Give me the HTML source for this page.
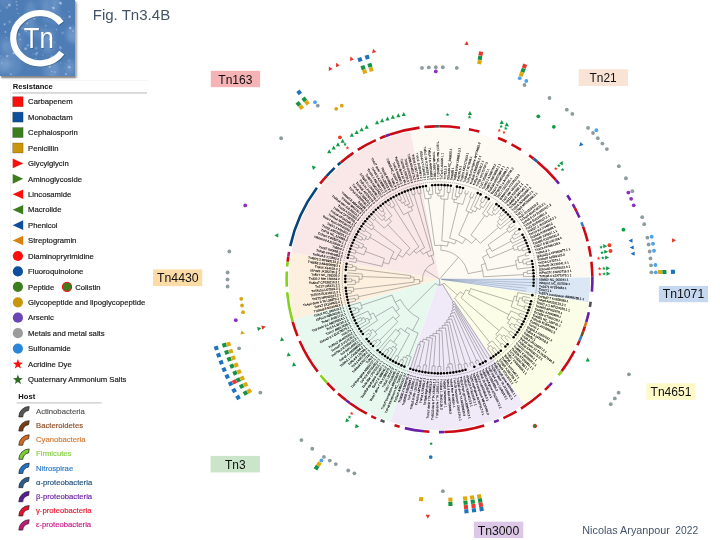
<!DOCTYPE html>
<html lang="en"><head><meta charset="utf-8"><title>Fig. Tn3.4B</title>
<style>html,body{margin:0;padding:0;background:#fff;overflow:hidden}svg{display:block}text{font-family:"Liberation Sans",Arial,sans-serif}</style></head><body>
<svg width="720" height="540" viewBox="0 0 720 540">
<defs><filter id="bl" x="-20%" y="-20%" width="140%" height="140%"><feGaussianBlur stdDeviation="0.9"/></filter><filter id="bl2" x="-20%" y="-20%" width="140%" height="140%"><feGaussianBlur stdDeviation="0.6"/></filter><filter id="bl3" x="-40%" y="-40%" width="180%" height="180%"><feGaussianBlur stdDeviation="2.2"/></filter><clipPath id="lc"><rect x="0" y="0" width="75" height="76"/></clipPath></defs>
<g id="logo"><rect x="1.5" y="2.5" width="75" height="75.3" fill="#7d7d7d" filter="url(#bl)"/><rect x="0" y="0" width="75" height="76" fill="#4e7db6"/><g clip-path="url(#lc)"><ellipse cx="17.8" cy="40.8" rx="5.2" ry="8.8" fill="#9dbde0" opacity="0.21" filter="url(#bl3)"/><ellipse cx="4.9" cy="1.0" rx="8.0" ry="6.1" fill="#9dbde0" opacity="0.14" filter="url(#bl3)"/><ellipse cx="74.7" cy="35.3" rx="8.0" ry="7.8" fill="#9dbde0" opacity="0.22" filter="url(#bl3)"/><ellipse cx="11.3" cy="47.6" rx="8.2" ry="8.2" fill="#9dbde0" opacity="0.23" filter="url(#bl3)"/><ellipse cx="50.4" cy="4.8" rx="7.5" ry="8.7" fill="#9dbde0" opacity="0.15" filter="url(#bl3)"/><ellipse cx="2.3" cy="64.9" rx="5.8" ry="9.8" fill="#9dbde0" opacity="0.26" filter="url(#bl3)"/><ellipse cx="53.6" cy="69.1" rx="5.4" ry="10.4" fill="#9dbde0" opacity="0.18" filter="url(#bl3)"/><ellipse cx="70.2" cy="65.9" rx="3.6" ry="5.1" fill="#9dbde0" opacity="0.14" filter="url(#bl3)"/><ellipse cx="72.4" cy="32.7" rx="6.8" ry="6.4" fill="#9dbde0" opacity="0.19" filter="url(#bl3)"/><ellipse cx="28.9" cy="26.3" rx="6.5" ry="8.7" fill="#9dbde0" opacity="0.26" filter="url(#bl3)"/><ellipse cx="51.1" cy="69.7" rx="8.1" ry="11.9" fill="#9dbde0" opacity="0.22" filter="url(#bl3)"/><ellipse cx="12.2" cy="64.5" rx="8.8" ry="11.2" fill="#9dbde0" opacity="0.20" filter="url(#bl3)"/><ellipse cx="53.5" cy="15.8" rx="8.0" ry="8.6" fill="#9dbde0" opacity="0.15" filter="url(#bl3)"/><ellipse cx="4.8" cy="64.0" rx="8.9" ry="4.7" fill="#9dbde0" opacity="0.24" filter="url(#bl3)"/><ellipse cx="30.8" cy="11.3" rx="4.8" ry="10.2" fill="#9dbde0" opacity="0.26" filter="url(#bl3)"/><ellipse cx="3.3" cy="46.1" rx="3.3" ry="9.7" fill="#9dbde0" opacity="0.16" filter="url(#bl3)"/><ellipse cx="66.1" cy="73.5" rx="6.0" ry="12.0" fill="#9dbde0" opacity="0.16" filter="url(#bl3)"/><ellipse cx="5.8" cy="45.0" rx="3.2" ry="5.6" fill="#9dbde0" opacity="0.17" filter="url(#bl3)"/><ellipse cx="45.8" cy="11.7" rx="3.3" ry="10.9" fill="#9dbde0" opacity="0.16" filter="url(#bl3)"/><ellipse cx="71.9" cy="67.2" rx="5.3" ry="7.7" fill="#9dbde0" opacity="0.19" filter="url(#bl3)"/><ellipse cx="48.3" cy="44.7" rx="6.4" ry="9.0" fill="#9dbde0" opacity="0.27" filter="url(#bl3)"/><ellipse cx="38.0" cy="32.3" rx="7.3" ry="5.9" fill="#9dbde0" opacity="0.15" filter="url(#bl3)"/><ellipse cx="73.3" cy="39.1" rx="6.3" ry="4.1" fill="#9dbde0" opacity="0.17" filter="url(#bl3)"/><ellipse cx="43.5" cy="1.5" rx="6.7" ry="9.1" fill="#9dbde0" opacity="0.11" filter="url(#bl3)"/><ellipse cx="47.1" cy="35.0" rx="7.1" ry="6.8" fill="#9dbde0" opacity="0.23" filter="url(#bl3)"/><ellipse cx="55.4" cy="1.7" rx="3.4" ry="9.4" fill="#9dbde0" opacity="0.27" filter="url(#bl3)"/><circle cx="18.8" cy="34.2" r="1.1" fill="#e6eef9" opacity="0.26" filter="url(#bl2)"/><circle cx="27.3" cy="23.5" r="0.9" fill="#e6eef9" opacity="0.36" filter="url(#bl2)"/><circle cx="22.5" cy="28.3" r="1.3" fill="#e6eef9" opacity="0.16" filter="url(#bl2)"/><circle cx="42.7" cy="55.1" r="0.8" fill="#e6eef9" opacity="0.23" filter="url(#bl2)"/><circle cx="60.3" cy="17.9" r="0.7" fill="#e6eef9" opacity="0.30" filter="url(#bl2)"/><circle cx="52.4" cy="7.6" r="0.8" fill="#e6eef9" opacity="0.27" filter="url(#bl2)"/><circle cx="62.5" cy="32.9" r="1.4" fill="#e6eef9" opacity="0.21" filter="url(#bl2)"/><circle cx="25.3" cy="48.8" r="1.4" fill="#e6eef9" opacity="0.31" filter="url(#bl2)"/><circle cx="16.9" cy="9.1" r="1.0" fill="#e6eef9" opacity="0.22" filter="url(#bl2)"/><circle cx="60.5" cy="62.9" r="0.7" fill="#e6eef9" opacity="0.25" filter="url(#bl2)"/><circle cx="60.5" cy="48.1" r="1.3" fill="#e6eef9" opacity="0.27" filter="url(#bl2)"/><circle cx="9.7" cy="21.9" r="1.3" fill="#e6eef9" opacity="0.24" filter="url(#bl2)"/><circle cx="26.0" cy="31.3" r="0.9" fill="#e6eef9" opacity="0.29" filter="url(#bl2)"/><circle cx="69.0" cy="11.7" r="0.5" fill="#e6eef9" opacity="0.48" filter="url(#bl2)"/><circle cx="66.0" cy="74.0" r="0.9" fill="#e6eef9" opacity="0.48" filter="url(#bl2)"/><circle cx="69.6" cy="16.7" r="1.2" fill="#e6eef9" opacity="0.44" filter="url(#bl2)"/><circle cx="49.7" cy="38.9" r="0.8" fill="#e6eef9" opacity="0.27" filter="url(#bl2)"/><circle cx="17.1" cy="5.1" r="1.1" fill="#e6eef9" opacity="0.25" filter="url(#bl2)"/><circle cx="60.8" cy="3.4" r="1.4" fill="#e6eef9" opacity="0.39" filter="url(#bl2)"/><circle cx="69.3" cy="67.2" r="1.4" fill="#e6eef9" opacity="0.35" filter="url(#bl2)"/><circle cx="1.0" cy="55.9" r="0.7" fill="#e6eef9" opacity="0.25" filter="url(#bl2)"/><circle cx="49.7" cy="39.4" r="0.9" fill="#e6eef9" opacity="0.48" filter="url(#bl2)"/><circle cx="45.9" cy="25.6" r="0.8" fill="#e6eef9" opacity="0.45" filter="url(#bl2)"/><circle cx="35.8" cy="58.7" r="0.9" fill="#e6eef9" opacity="0.22" filter="url(#bl2)"/><circle cx="40.1" cy="61.3" r="0.7" fill="#e6eef9" opacity="0.43" filter="url(#bl2)"/><circle cx="69.1" cy="60.5" r="1.3" fill="#e6eef9" opacity="0.15" filter="url(#bl2)"/><circle cx="47.1" cy="64.7" r="0.5" fill="#e6eef9" opacity="0.24" filter="url(#bl2)"/><circle cx="20.1" cy="39.5" r="0.9" fill="#e6eef9" opacity="0.32" filter="url(#bl2)"/><circle cx="58.2" cy="0.1" r="0.6" fill="#e6eef9" opacity="0.19" filter="url(#bl2)"/><circle cx="9.3" cy="5.1" r="1.5" fill="#e6eef9" opacity="0.45" filter="url(#bl2)"/><circle cx="6.5" cy="37.7" r="0.8" fill="#e6eef9" opacity="0.26" filter="url(#bl2)"/><circle cx="26.3" cy="48.5" r="1.1" fill="#e6eef9" opacity="0.28" filter="url(#bl2)"/><circle cx="14.3" cy="24.7" r="0.6" fill="#e6eef9" opacity="0.34" filter="url(#bl2)"/><circle cx="53.7" cy="28.5" r="0.6" fill="#e6eef9" opacity="0.21" filter="url(#bl2)"/><circle cx="28.0" cy="45.3" r="1.3" fill="#e6eef9" opacity="0.28" filter="url(#bl2)"/><circle cx="60.1" cy="46.7" r="0.9" fill="#e6eef9" opacity="0.28" filter="url(#bl2)"/><circle cx="37.2" cy="52.7" r="0.9" fill="#e6eef9" opacity="0.39" filter="url(#bl2)"/><circle cx="34.6" cy="18.4" r="1.0" fill="#e6eef9" opacity="0.39" filter="url(#bl2)"/><circle cx="5.4" cy="31.9" r="0.9" fill="#e6eef9" opacity="0.46" filter="url(#bl2)"/><circle cx="70.2" cy="28.1" r="1.4" fill="#e6eef9" opacity="0.43" filter="url(#bl2)"/><circle cx="19.7" cy="34.8" r="0.6" fill="#e6eef9" opacity="0.43" filter="url(#bl2)"/><circle cx="49.7" cy="66.6" r="1.3" fill="#e6eef9" opacity="0.38" filter="url(#bl2)"/><circle cx="55.0" cy="42.3" r="0.6" fill="#e6eef9" opacity="0.36" filter="url(#bl2)"/><circle cx="0.4" cy="10.8" r="1.3" fill="#e6eef9" opacity="0.17" filter="url(#bl2)"/><circle cx="6.9" cy="7.4" r="1.4" fill="#e6eef9" opacity="0.21" filter="url(#bl2)"/><circle cx="1.8" cy="63.1" r="0.6" fill="#e6eef9" opacity="0.45" filter="url(#bl2)"/><circle cx="50.5" cy="62.7" r="1.5" fill="#e6eef9" opacity="0.35" filter="url(#bl2)"/><circle cx="59.9" cy="2.7" r="1.3" fill="#e6eef9" opacity="0.33" filter="url(#bl2)"/><circle cx="53.6" cy="8.0" r="1.2" fill="#e6eef9" opacity="0.48" filter="url(#bl2)"/><circle cx="4.6" cy="24.3" r="1.1" fill="#e6eef9" opacity="0.44" filter="url(#bl2)"/><circle cx="18.2" cy="13.5" r="0.7" fill="#e6eef9" opacity="0.37" filter="url(#bl2)"/><circle cx="56.5" cy="29.5" r="0.9" fill="#e6eef9" opacity="0.29" filter="url(#bl2)"/><circle cx="26.3" cy="31.4" r="0.6" fill="#e6eef9" opacity="0.33" filter="url(#bl2)"/><circle cx="73.0" cy="31.0" r="1.2" fill="#e6eef9" opacity="0.21" filter="url(#bl2)"/><circle cx="51.8" cy="56.7" r="1.2" fill="#e6eef9" opacity="0.33" filter="url(#bl2)"/><circle cx="36.3" cy="48.2" r="1.4" fill="#e6eef9" opacity="0.20" filter="url(#bl2)"/><circle cx="7.2" cy="56.1" r="1.4" fill="#e6eef9" opacity="0.33" filter="url(#bl2)"/><circle cx="33.2" cy="53.9" r="0.7" fill="#e6eef9" opacity="0.24" filter="url(#bl2)"/><circle cx="14.9" cy="43.9" r="0.8" fill="#e6eef9" opacity="0.23" filter="url(#bl2)"/><circle cx="51.8" cy="71.5" r="0.8" fill="#e6eef9" opacity="0.40" filter="url(#bl2)"/><circle cx="31.0" cy="64.0" r="1.1" fill="#e6eef9" opacity="0.24" filter="url(#bl2)"/><circle cx="16.3" cy="1.7" r="1.0" fill="#e6eef9" opacity="0.28" filter="url(#bl2)"/><circle cx="12.9" cy="27.0" r="0.8" fill="#e6eef9" opacity="0.42" filter="url(#bl2)"/><circle cx="10.8" cy="74.3" r="1.0" fill="#e6eef9" opacity="0.36" filter="url(#bl2)"/><circle cx="35.1" cy="62.6" r="1.3" fill="#e6eef9" opacity="0.34" filter="url(#bl2)"/><circle cx="36.1" cy="54.1" r="1.4" fill="#e6eef9" opacity="0.29" filter="url(#bl2)"/><circle cx="55.0" cy="72.0" r="1.0" fill="#e6eef9" opacity="0.23" filter="url(#bl2)"/><circle cx="17.6" cy="53.8" r="1.2" fill="#e6eef9" opacity="0.49" filter="url(#bl2)"/><circle cx="64.0" cy="18.2" r="0.7" fill="#e6eef9" opacity="0.24" filter="url(#bl2)"/><circle cx="14.0" cy="52.9" r="1.4" fill="#e6eef9" opacity="0.46" filter="url(#bl2)"/></g><rect x="1.2" y="76" width="74.6" height="1.6" fill="#8a8a8a" opacity="0.85"/><rect x="75" y="1" width="0.8" height="76" fill="#b5b5b5"/><path d="M62.12 23.99A26.7 25.1 0 1 0 62.67 53.50" fill="none" stroke="#27466f" stroke-opacity="0.45" stroke-width="6.2"/><path d="M61.22 23.09A26.7 25.1 0 1 0 61.77 52.60" fill="none" stroke="#fff" stroke-width="6.2"/><text x="24.4" y="49.1" font-size="29.2" fill="#27466f" fill-opacity="0.45" textLength="30" lengthAdjust="spacingAndGlyphs">Tn</text><text x="23.7" y="48.4" font-size="29.2" fill="#fff" textLength="30" lengthAdjust="spacingAndGlyphs">Tn</text></g>
<text x="92.7" y="19.7" font-size="14.9" fill="#44546a" textLength="77.5" lengthAdjust="spacingAndGlyphs">Fig. Tn3.4B</text>
<text x="582.3" y="533.5" font-size="10" fill="#44546a" textLength="87.6" lengthAdjust="spacingAndGlyphs">Nicolas Aryanpour</text><text x="675.3" y="533.5" font-size="10" fill="#44546a" textLength="22.8" lengthAdjust="spacingAndGlyphs">2022</text>
<g id="legend">
<path d="M10.5 388V80.5H148" fill="none" stroke="#f4f4f4" stroke-width="0.8"/>
<text x="12.7" y="89.2" font-size="7.6" font-weight="bold" fill="#111">Resistance</text>
<rect x="12.5" y="92.3" width="134.5" height="1.3" fill="#c8c8c8"/>
<rect x="12.7" y="96.70" width="10.4" height="10" fill="#fa0f0c" stroke="#000" stroke-opacity="0.28" stroke-width="0.7"/>
<text x="28.1" y="104.40" font-size="7.7" fill="#1a1a1a" stroke="#1a1a1a" stroke-width="0.18">Carbapenem</text>
<rect x="12.7" y="112.13" width="10.4" height="10" fill="#0d4f9c" stroke="#000" stroke-opacity="0.28" stroke-width="0.7"/>
<text x="28.1" y="119.83" font-size="7.7" fill="#1a1a1a" stroke="#1a1a1a" stroke-width="0.18">Monobactam</text>
<rect x="12.7" y="127.56" width="10.4" height="10" fill="#3c7d1e" stroke="#000" stroke-opacity="0.28" stroke-width="0.7"/>
<text x="28.1" y="135.26" font-size="7.7" fill="#1a1a1a" stroke="#1a1a1a" stroke-width="0.18">Cephalosporin</text>
<rect x="12.7" y="142.99" width="10.4" height="10" fill="#c8960c" stroke="#000" stroke-opacity="0.28" stroke-width="0.7"/>
<text x="28.1" y="150.69" font-size="7.7" fill="#1a1a1a" stroke="#1a1a1a" stroke-width="0.18">Penicillin</text>
<polygon points="12.7,158.62 23.2,163.42 12.7,168.22" fill="#fa0f0c"/>
<text x="28.1" y="166.12" font-size="7.7" fill="#1a1a1a" stroke="#1a1a1a" stroke-width="0.18">Glycylglycin</text>
<polygon points="12.7,174.05 23.2,178.85 12.7,183.65" fill="#3c7d1e"/>
<text x="28.1" y="181.55" font-size="7.7" fill="#1a1a1a" stroke="#1a1a1a" stroke-width="0.18">Aminoglycoside</text>
<polygon points="23.2,189.48 12.7,194.28 23.2,199.08" fill="#fa0f0c"/>
<text x="28.1" y="196.98" font-size="7.7" fill="#1a1a1a" stroke="#1a1a1a" stroke-width="0.18">Lincosamide</text>
<polygon points="23.2,204.91 12.7,209.71 23.2,214.51" fill="#3c7d1e"/>
<text x="28.1" y="212.41" font-size="7.7" fill="#1a1a1a" stroke="#1a1a1a" stroke-width="0.18">Macrolide</text>
<polygon points="23.2,220.34 12.7,225.14 23.2,229.94" fill="#0d4f9c"/>
<text x="28.1" y="227.84" font-size="7.7" fill="#1a1a1a" stroke="#1a1a1a" stroke-width="0.18">Phenicol</text>
<polygon points="23.2,235.77 12.7,240.57 23.2,245.37" fill="#d9820f"/>
<text x="28.1" y="243.27" font-size="7.7" fill="#1a1a1a" stroke="#1a1a1a" stroke-width="0.18">Streptogramin</text>
<circle cx="17.9" cy="256.00" r="5.1" fill="#fa0f0c"/>
<text x="28.1" y="258.70" font-size="7.7" fill="#1a1a1a" stroke="#1a1a1a" stroke-width="0.18">Diaminopryrimidine</text>
<circle cx="17.9" cy="271.43" r="5.1" fill="#0d4f9c"/>
<text x="28.1" y="274.13" font-size="7.7" fill="#1a1a1a" stroke="#1a1a1a" stroke-width="0.18">Fluoroquinolone</text>
<circle cx="17.9" cy="286.86" r="5.1" fill="#3c7d1e"/>
<text x="28.1" y="289.56" font-size="7.7" fill="#1a1a1a" stroke="#1a1a1a" stroke-width="0.18">Peptide</text>
<circle cx="17.9" cy="302.29" r="5.1" fill="#c8960c"/>
<text x="28.1" y="304.99" font-size="7.7" fill="#1a1a1a" stroke="#1a1a1a" stroke-width="0.18">Glycopeptide and lipoglycopeptide</text>
<circle cx="17.9" cy="317.72" r="5.1" fill="#6a45b5"/>
<text x="28.1" y="320.42" font-size="7.7" fill="#1a1a1a" stroke="#1a1a1a" stroke-width="0.18">Arsenic</text>
<circle cx="17.9" cy="333.15" r="5.1" fill="#9b9b9b"/>
<text x="28.1" y="335.85" font-size="7.7" fill="#1a1a1a" stroke="#1a1a1a" stroke-width="0.18">Metals and metal salts</text>
<circle cx="17.9" cy="348.58" r="5.1" fill="#2a86d6"/>
<text x="28.1" y="351.28" font-size="7.7" fill="#1a1a1a" stroke="#1a1a1a" stroke-width="0.18">Sulfonamide</text>
<polygon points="17.90,359.11 19.19,362.53 22.85,362.70 19.99,364.99 20.96,368.52 17.90,366.51 14.84,368.52 15.81,364.99 12.95,362.70 16.61,362.53" fill="#fa0f0c"/>
<text x="28.1" y="366.71" font-size="7.7" fill="#1a1a1a" stroke="#1a1a1a" stroke-width="0.18">Acridine Dye</text>
<polygon points="17.90,374.54 19.19,377.96 22.85,378.13 19.99,380.42 20.96,383.95 17.90,381.94 14.84,383.95 15.81,380.42 12.95,378.13 16.61,377.96" fill="#2f6b22"/>
<text x="28.1" y="382.14" font-size="7.7" fill="#1a1a1a" stroke="#1a1a1a" stroke-width="0.18">Quaternary Ammonium Salts</text>
<circle cx="67" cy="286.86" r="4.6" fill="#3c7d1e" stroke="#fa0f0c" stroke-width="1.1"/>
<text x="75.3" y="289.56" font-size="7.7" fill="#1a1a1a" stroke="#1a1a1a" stroke-width="0.18">Colistin</text>
<text x="18.3" y="399.2" font-size="7.6" font-weight="bold" fill="#111">Host</text>
<rect x="16.7" y="402.3" width="85" height="1.2" fill="#c8c8c8"/>
<path d="M18.80 416.90A10.4 10.4 0 0 1 29.20 406.50L28.60 410.50A6.4 6.4 0 0 0 22.80 416.90Z" fill="#555555" stroke="#222" stroke-width="0.7" stroke-linejoin="round"/>
<text x="36" y="413.90" font-size="7.7" fill="#555" stroke="#555" stroke-width="0.15">Actinobacteria</text>
<path d="M18.80 431.05A10.4 10.4 0 0 1 29.20 420.65L28.60 424.65A6.4 6.4 0 0 0 22.80 431.05Z" fill="#7a3b12" stroke="#222" stroke-width="0.7" stroke-linejoin="round"/>
<text x="36" y="428.05" font-size="7.7" fill="#8b4a22" stroke="#8b4a22" stroke-width="0.15">Bacteroidetes</text>
<path d="M18.80 445.20A10.4 10.4 0 0 1 29.20 434.80L28.60 438.80A6.4 6.4 0 0 0 22.80 445.20Z" fill="#d2691e" stroke="#222" stroke-width="0.7" stroke-linejoin="round"/>
<text x="36" y="442.20" font-size="7.7" fill="#d07a35" stroke="#d07a35" stroke-width="0.15">Cyanobacteria</text>
<path d="M18.80 459.35A10.4 10.4 0 0 1 29.20 448.95L28.60 452.95A6.4 6.4 0 0 0 22.80 459.35Z" fill="#7ccd2e" stroke="#222" stroke-width="0.7" stroke-linejoin="round"/>
<text x="36" y="456.35" font-size="7.7" fill="#86cf45" stroke="#86cf45" stroke-width="0.15">Firmicutes</text>
<path d="M18.80 473.50A10.4 10.4 0 0 1 29.20 463.10L28.60 467.10A6.4 6.4 0 0 0 22.80 473.50Z" fill="#1f72c4" stroke="#222" stroke-width="0.7" stroke-linejoin="round"/>
<text x="36" y="470.50" font-size="7.7" fill="#2a78c8" stroke="#2a78c8" stroke-width="0.15">Nitrospirae</text>
<path d="M18.80 487.65A10.4 10.4 0 0 1 29.20 477.25L28.60 481.25A6.4 6.4 0 0 0 22.80 487.65Z" fill="#2a5d8c" stroke="#222" stroke-width="0.7" stroke-linejoin="round"/>
<text x="36" y="484.65" font-size="7.7" fill="#1f4e79" stroke="#1f4e79" stroke-width="0.15">α-proteobacteria</text>
<path d="M18.80 501.80A10.4 10.4 0 0 1 29.20 491.40L28.60 495.40A6.4 6.4 0 0 0 22.80 501.80Z" fill="#5b1a96" stroke="#222" stroke-width="0.7" stroke-linejoin="round"/>
<text x="36" y="498.80" font-size="7.7" fill="#6a1fa0" stroke="#6a1fa0" stroke-width="0.15">β-proteobacteria</text>
<path d="M18.80 515.95A10.4 10.4 0 0 1 29.20 505.55L28.60 509.55A6.4 6.4 0 0 0 22.80 515.95Z" fill="#e8112d" stroke="#222" stroke-width="0.7" stroke-linejoin="round"/>
<text x="36" y="512.95" font-size="7.7" fill="#e8112d" stroke="#e8112d" stroke-width="0.15">γ-proteobacteria</text>
<path d="M18.80 530.10A10.4 10.4 0 0 1 29.20 519.70L28.60 523.70A6.4 6.4 0 0 0 22.80 530.10Z" fill="#c2187a" stroke="#222" stroke-width="0.7" stroke-linejoin="round"/>
<text x="36" y="527.10" font-size="7.7" fill="#c71585" stroke="#c71585" stroke-width="0.15">ε-proteobacteria</text>
</g>
<rect x="210.8" y="70.8" width="49.3" height="16.4" fill="#f5b3b6"/>
<text x="218.3" y="83.7" font-size="12" fill="#111" textLength="34.2" lengthAdjust="spacingAndGlyphs">Tn163</text>
<rect x="578.7" y="69.2" width="49.2" height="16.7" fill="#f8e3d5"/>
<text x="589.6" y="82.0" font-size="12" fill="#111" textLength="27.1" lengthAdjust="spacingAndGlyphs">Tn21</text>
<rect x="658.9" y="285.9" width="49.1" height="16.3" fill="#c5d8f0"/>
<text x="662.7" y="298.3" font-size="12" fill="#111" textLength="41.5" lengthAdjust="spacingAndGlyphs">Tn1071</text>
<rect x="646.3" y="383.3" width="49" height="16.5" fill="#fff9c8"/>
<text x="650.5" y="396.3" font-size="12" fill="#111" textLength="41.0" lengthAdjust="spacingAndGlyphs">Tn4651</text>
<rect x="153" y="269.4" width="49.2" height="16.7" fill="#fcdca6"/>
<text x="157.0" y="282.4" font-size="12" fill="#111" textLength="41.7" lengthAdjust="spacingAndGlyphs">Tn4430</text>
<rect x="210.6" y="455.9" width="49.4" height="16.5" fill="#cbe5cb"/>
<text x="225.0" y="468.9" font-size="12" fill="#111" textLength="20.6" lengthAdjust="spacingAndGlyphs">Tn3</text>
<rect x="473.9" y="521.7" width="49.4" height="16.4" fill="#dcc8e6"/>
<text x="477.7" y="534.8" font-size="12" fill="#111" textLength="41.5" lengthAdjust="spacingAndGlyphs">Tn3000</text>
<g id="tree">
<path d="M439.5 279.2L590.19 277.23A150.7 150.7 0 0 1 588.43 302.25Z" fill="#dce7f5"/>
<path d="M439.5 279.2L588.43 302.25A150.7 150.7 0 0 1 523.77 404.14Z" fill="#fbfde6"/>
<path d="M439.5 279.2L523.77 404.14A150.7 150.7 0 0 1 390.44 421.69Z" fill="#efe9f8"/>
<path d="M439.5 279.2L390.44 421.69A150.7 150.7 0 0 1 294.21 319.22Z" fill="#e7f8ee"/>
<path d="M439.5 279.2L294.21 319.22A150.7 150.7 0 0 1 291.23 252.25Z" fill="#fdf0df"/>
<path d="M439.5 279.2L291.23 252.25A150.7 150.7 0 0 1 410.49 131.32Z" fill="#fae8e8"/>
<path d="M439.5 279.2L410.49 131.32A150.7 150.7 0 0 1 590.19 277.23Z" fill="#fdfaf3"/>
<path d="M290.22 246.11A152.90 152.90 0 0 1 316.91 187.82" fill="none" stroke="#0b4577" stroke-width="2.6"/>
<path d="M320.17 183.60A152.90 152.90 0 0 1 326.59 176.10" fill="none" stroke="#cc0a14" stroke-width="2.6"/>
<path d="M326.59 176.10A152.90 152.90 0 0 1 334.64 167.92" fill="none" stroke="#0b4577" stroke-width="2.6"/>
<path d="M337.79 165.04A152.90 152.90 0 0 1 340.81 162.42" fill="none" stroke="#0b4577" stroke-width="2.6"/>
<path d="M340.81 162.42A152.90 152.90 0 0 1 353.34 152.89" fill="none" stroke="#cc0a14" stroke-width="2.6"/>
<path d="M357.80 149.96A152.90 152.90 0 0 1 375.85 140.18" fill="none" stroke="#cc0a14" stroke-width="2.6"/>
<path d="M380.00 138.35A152.90 152.90 0 0 1 385.70 136.08" fill="none" stroke="#cc0a14" stroke-width="2.6"/>
<path d="M385.70 136.08A152.90 152.90 0 0 1 389.97 134.54" fill="none" stroke="#6a1fa8" stroke-width="2.6"/>
<path d="M389.97 134.54A152.90 152.90 0 0 1 419.54 127.61" fill="none" stroke="#cc0a14" stroke-width="2.6"/>
<path d="M424.31 127.06A152.90 152.90 0 0 1 434.96 126.37" fill="none" stroke="#cc0a14" stroke-width="2.6"/>
<path d="M434.96 126.37A152.90 152.90 0 0 1 439.50 126.30" fill="none" stroke="#555555" stroke-width="2.6"/>
<path d="M439.50 126.30A152.90 152.90 0 0 1 459.99 127.68" fill="none" stroke="#cc0a14" stroke-width="2.6"/>
<path d="M468.94 129.16A152.90 152.90 0 0 1 479.33 131.58" fill="none" stroke="#cc0a14" stroke-width="2.6"/>
<path d="M498.01 137.94A152.90 152.90 0 0 1 506.53 141.77" fill="none" stroke="#cc0a14" stroke-width="2.6"/>
<path d="M511.52 144.32A152.90 152.90 0 0 1 520.98 149.82" fill="none" stroke="#cc0a14" stroke-width="2.6"/>
<path d="M529.16 155.34A152.90 152.90 0 0 1 533.53 158.63" fill="none" stroke="#cc0a14" stroke-width="2.6"/>
<path d="M533.53 158.63A152.90 152.90 0 0 1 537.37 161.73" fill="none" stroke="#1f5f95" stroke-width="2.6"/>
<path d="M537.37 161.73A152.90 152.90 0 0 1 555.77 179.90" fill="none" stroke="#cc0a14" stroke-width="2.6"/>
<path d="M555.77 179.90A152.90 152.90 0 0 1 558.99 183.81" fill="none" stroke="#6a1fa8" stroke-width="2.6"/>
<path d="M567.29 195.25A152.90 152.90 0 0 1 570.42 200.22" fill="none" stroke="#6a1fa8" stroke-width="2.6"/>
<path d="M572.71 204.14A152.90 152.90 0 0 1 574.88 208.13" fill="none" stroke="#6a1fa8" stroke-width="2.6"/>
<path d="M574.88 208.13A152.90 152.90 0 0 1 576.45 211.22" fill="none" stroke="#cc0a14" stroke-width="2.6"/>
<path d="M576.45 211.22A152.90 152.90 0 0 1 579.40 217.50" fill="none" stroke="#6a1fa8" stroke-width="2.6"/>
<path d="M581.37 222.17A152.90 152.90 0 0 1 583.09 226.65" fill="none" stroke="#2f7fd0" stroke-width="2.6"/>
<path d="M583.09 226.65A152.90 152.90 0 0 1 587.66 241.43" fill="none" stroke="#cc0a14" stroke-width="2.6"/>
<path d="M588.78 246.11A152.90 152.90 0 0 1 590.72 256.60" fill="none" stroke="#cc0a14" stroke-width="2.6"/>
<path d="M591.40 261.76A152.90 152.90 0 0 1 592.38 276.66" fill="none" stroke="#cc0a14" stroke-width="2.6"/>
<path d="M592.38 276.66A152.90 152.90 0 0 1 591.90 291.57" fill="none" stroke="#6a1fa8" stroke-width="2.6"/>
<path d="M590.72 301.80A152.90 152.90 0 0 1 589.84 307.06" fill="none" stroke="#555555" stroke-width="2.6"/>
<path d="M588.78 312.29A152.90 152.90 0 0 1 586.22 322.24" fill="none" stroke="#6a1fa8" stroke-width="2.6"/>
<path d="M586.22 322.24A152.90 152.90 0 0 1 584.83 326.70" fill="none" stroke="#d2761e" stroke-width="2.6"/>
<path d="M584.83 326.70A152.90 152.90 0 0 1 583.27 331.24" fill="none" stroke="#cc0a14" stroke-width="2.6"/>
<path d="M583.27 331.24A152.90 152.90 0 0 1 581.42 336.11" fill="none" stroke="#7a4a1a" stroke-width="2.6"/>
<path d="M581.42 336.11A152.90 152.90 0 0 1 579.50 340.66" fill="none" stroke="#2f7fd0" stroke-width="2.6"/>
<path d="M579.50 340.66A152.90 152.90 0 0 1 577.39 345.27" fill="none" stroke="#cc0a14" stroke-width="2.6"/>
<path d="M574.54 350.91A152.90 152.90 0 0 1 561.68 371.13" fill="none" stroke="#cc0a14" stroke-width="2.6"/>
<path d="M561.68 371.13A152.90 152.90 0 0 1 558.49 375.22" fill="none" stroke="#86d11a" stroke-width="2.6"/>
<path d="M551.87 382.89A152.90 152.90 0 0 1 548.74 386.18" fill="none" stroke="#6a1fa8" stroke-width="2.6"/>
<path d="M548.74 386.18A152.90 152.90 0 0 1 544.94 389.93" fill="none" stroke="#cc0a14" stroke-width="2.6"/>
<path d="M541.21 393.36A152.90 152.90 0 0 1 520.98 408.58" fill="none" stroke="#cc0a14" stroke-width="2.6"/>
<path d="M516.41 411.35A152.90 152.90 0 0 1 503.39 418.11" fill="none" stroke="#cc0a14" stroke-width="2.6"/>
<path d="M498.75 420.15A152.90 152.90 0 0 1 494.05 422.04" fill="none" stroke="#6a1fa8" stroke-width="2.6"/>
<path d="M484.20 425.42A152.90 152.90 0 0 1 444.44 432.02" fill="none" stroke="#cc0a14" stroke-width="2.6"/>
<path d="M444.44 432.02A152.90 152.90 0 0 1 438.97 432.10" fill="none" stroke="#6a1fa8" stroke-width="2.6"/>
<path d="M429.37 431.76A152.90 152.90 0 0 1 424.05 431.32" fill="none" stroke="#cc0a14" stroke-width="2.6"/>
<path d="M424.05 431.32A152.90 152.90 0 0 1 404.85 428.12" fill="none" stroke="#6a1fa8" stroke-width="2.6"/>
<path d="M399.67 426.82A152.90 152.90 0 0 1 394.54 425.34" fill="none" stroke="#cc0a14" stroke-width="2.6"/>
<path d="M384.58 421.90A152.90 152.90 0 0 1 380.59 420.30" fill="none" stroke="#555555" stroke-width="2.6"/>
<path d="M376.09 418.33A152.90 152.90 0 0 1 371.28 416.04" fill="none" stroke="#cc0a14" stroke-width="2.6"/>
<path d="M366.78 413.70A152.90 152.90 0 0 1 350.06 403.21" fill="none" stroke="#cc0a14" stroke-width="2.6"/>
<path d="M350.06 403.21A152.90 152.90 0 0 1 346.21 400.34" fill="none" stroke="#6a1fa8" stroke-width="2.6"/>
<path d="M346.21 400.34A152.90 152.90 0 0 1 337.99 393.54" fill="none" stroke="#cc0a14" stroke-width="2.6"/>
<path d="M334.64 390.48A152.90 152.90 0 0 1 327.13 382.89" fill="none" stroke="#cc0a14" stroke-width="2.6"/>
<path d="M327.13 382.89A152.90 152.90 0 0 1 320.51 375.22" fill="none" stroke="#86d11a" stroke-width="2.6"/>
<path d="M317.71 371.64A152.90 152.90 0 0 1 299.60 340.90" fill="none" stroke="#cc0a14" stroke-width="2.6"/>
<path d="M297.53 335.98A152.90 152.90 0 0 1 292.67 321.86" fill="none" stroke="#cc0a14" stroke-width="2.6"/>
<path d="M292.67 321.86A152.90 152.90 0 0 1 287.16 292.26" fill="none" stroke="#86d11a" stroke-width="2.6"/>
<path d="M286.78 286.67A152.90 152.90 0 0 1 286.80 271.46" fill="none" stroke="#86d11a" stroke-width="2.6"/>
<path d="M287.11 266.67A152.90 152.90 0 0 1 287.61 261.63" fill="none" stroke="#86d11a" stroke-width="2.6"/>
<path d="M287.61 261.63A152.90 152.90 0 0 1 288.28 256.60" fill="none" stroke="#cc0a14" stroke-width="2.6"/>
<path d="M288.28 256.60A152.90 152.90 0 0 1 289.06 251.86" fill="none" stroke="#c2187a" stroke-width="2.6"/>
<circle cx="439.5" cy="279.2" r="97.3" fill="none" stroke="#555" stroke-width="0.45" stroke-dasharray="1.2 0.9"/>
<path d="M441.50 279.21L532.10 279.53M441.50 279.27L532.04 282.62M441.50 279.34L531.87 285.70M441.49 279.41L526.63 288.26M441.48 279.47L526.28 291.16" fill="none" stroke="#7f8fae" stroke-width="0.45"/>
<path d="M494.36 347.63A87.71 87.71 0 0 1 492.08 349.40M494.36 347.63L497.42 351.45M492.08 349.40L495.01 353.32M490.86 345.47A83.84 83.84 0 0 1 487.52 347.93M490.86 345.47L493.23 348.53M487.52 347.93L492.54 355.11M492.28 340.76A81.09 81.09 0 0 1 487.58 344.50M492.28 340.76L499.77 349.50M487.58 344.50L489.21 346.72M510.38 331.03A87.81 87.81 0 0 1 508.64 333.34M510.38 331.03L514.25 333.86M508.64 333.34L512.41 336.29M506.77 335.55A87.75 87.75 0 0 1 504.88 337.74M506.77 335.55L510.49 338.66M504.88 337.74L508.49 340.97M503.68 334.78A84.90 84.90 0 0 1 500.85 337.89M503.68 334.78L505.83 336.65M500.85 337.89L506.42 343.21M502.14 343.20A89.55 89.55 0 0 1 500.00 345.23M502.14 343.20L504.27 345.38M500.00 345.23L502.05 347.48M499.74 334.03A81.46 81.46 0 0 1 495.51 338.34M499.74 334.03L502.28 336.35M495.51 338.34L501.08 344.23M502.30 326.73A78.76 78.76 0 0 1 495.74 334.34M502.30 326.73L509.52 332.19M495.74 334.34L497.66 336.23M519.85 313.24A87.27 87.27 0 0 1 518.69 315.87M519.85 313.24L524.76 315.32M518.69 315.87L523.53 318.11M518.13 318.81A88.04 88.04 0 0 1 516.78 321.38M518.13 318.81L522.20 320.86M516.78 321.38L520.78 323.56M515.40 323.93A88.10 88.10 0 0 1 513.89 326.41M515.40 323.93L519.28 326.21M513.89 326.41L517.68 328.82M511.53 323.26A84.44 84.44 0 0 1 509.27 326.77M511.53 323.26L514.65 325.17M509.27 326.77L516.01 331.37M511.33 316.88A81.11 81.11 0 0 1 507.62 323.22M511.33 316.88L517.47 320.10M507.62 323.22L510.42 325.03M510.87 310.83A78.06 78.06 0 0 1 506.92 318.56M510.87 310.83L519.28 314.56M506.92 318.56L509.55 320.09M524.97 299.75A87.91 87.91 0 0 1 524.25 302.56M524.97 299.75L529.53 300.85M524.25 302.56L528.77 303.80M522.89 296.37A85.14 85.14 0 0 1 521.94 300.47M522.89 296.37L530.20 297.87M521.94 300.47L524.62 301.16M524.74 305.74A89.28 89.28 0 0 1 523.82 308.54M524.74 305.74L527.91 306.73M523.82 308.54L526.96 309.63M519.45 297.73A82.07 82.07 0 0 1 517.45 304.89M519.45 297.73L522.44 298.42M517.45 304.89L524.29 307.14M517.72 292.63A79.37 79.37 0 0 1 515.93 300.60M517.72 292.63L530.76 294.87M515.93 300.60L518.53 301.33M514.36 296.06A76.74 76.74 0 0 1 511.11 306.79M514.36 296.06L516.93 296.64M511.11 306.79L525.91 312.49M470.58 288.63A32.48 32.48 0 0 1 468.42 293.99M470.58 288.63L512.93 301.49M468.42 293.99L509.00 314.75M465.84 289.84A28.41 28.41 0 0 1 461.01 297.76M465.84 289.84L469.62 291.36M461.01 297.76L499.14 330.64M459.99 291.70A24.00 24.00 0 0 1 454.44 297.99M459.99 291.70L463.75 293.99M454.44 297.99L489.96 342.68M477.97 359.92A89.42 89.42 0 0 1 475.28 361.15M477.97 359.92L479.34 362.79M475.28 361.15L476.56 364.06M472.43 361.96A89.07 89.07 0 0 1 469.68 363.00M472.43 361.96L473.73 365.24M469.68 363.00L470.87 366.32M466.64 363.18A88.26 88.26 0 0 1 463.85 364.03M466.64 363.18L467.98 367.31M463.85 364.03L465.05 368.20M460.83 363.96A87.40 87.40 0 0 1 458.02 364.62M460.83 363.96L462.10 369.00M458.02 364.62L459.12 369.70M449.58 366.96A88.34 88.34 0 0 1 446.68 367.25M449.58 366.96L450.07 371.19M446.68 367.25L447.02 371.49M452.04 363.67A85.40 85.40 0 0 1 447.84 364.19M452.04 363.67L453.10 370.80M447.84 364.19L448.13 367.12M440.83 366.38A87.19 87.19 0 0 1 437.95 366.38M440.83 366.38L440.91 371.79M437.95 366.38L437.86 371.79M435.08 366.03A86.95 86.95 0 0 1 432.22 365.84M435.08 366.03L434.80 371.68M432.22 365.84L431.75 371.47M426.50 365.26A87.04 87.04 0 0 1 423.67 364.78M426.50 365.26L425.67 370.76M423.67 364.78L422.65 370.25M420.36 366.42A89.30 89.30 0 0 1 417.49 365.74M420.36 366.42L419.65 369.65M417.49 365.74L416.68 368.94M420.49 344.78A68.28 68.28 0 0 1 418.34 344.12M420.49 344.78L413.73 368.14M418.34 344.12L410.80 367.24M424.56 342.31A64.86 64.86 0 0 1 420.42 341.19M424.56 342.31L418.92 366.10M420.42 341.19L419.41 344.46M429.23 340.33A61.99 61.99 0 0 1 423.23 339.01M429.23 340.33L425.08 365.03M423.23 339.01L422.48 341.79M432.56 338.28A59.49 59.49 0 0 1 426.75 337.30M432.56 338.28L428.70 371.17M426.75 337.30L426.22 339.75M435.67 336.06A56.99 56.99 0 0 1 430.06 335.40M435.67 336.06L433.65 365.95M430.06 335.40L429.65 337.86M439.43 333.69A54.49 54.49 0 0 1 433.15 333.31M439.43 333.69L439.39 366.39M433.15 333.31L432.85 335.80M441.99 330.73A51.59 51.59 0 0 1 436.45 330.70M441.99 330.73L443.97 371.69M436.45 330.70L436.28 333.59M445.51 327.92A49.09 49.09 0 0 1 439.24 328.29M445.51 327.92L449.95 363.96M439.24 328.29L439.22 330.79M447.83 324.88A46.43 46.43 0 0 1 442.22 325.55M447.83 324.88L456.12 370.30M442.22 325.55L442.38 328.20M449.52 321.97A43.93 43.93 0 0 1 444.74 322.82M449.52 321.97L459.43 364.30M444.74 322.82L445.04 325.30M451.59 318.83A41.43 41.43 0 0 1 446.70 320.00M451.59 318.83L465.25 363.62M446.70 320.00L447.14 322.46M453.29 315.61A38.93 38.93 0 0 1 448.58 317.06M453.29 315.61L471.06 362.49M448.58 317.06L449.16 319.49M454.60 312.27A36.35 36.35 0 0 1 450.20 313.94M454.60 312.27L476.63 360.55M450.20 313.94L450.96 316.41M455.07 309.26A33.85 33.85 0 0 1 451.54 310.84M455.07 309.26L482.08 361.43M451.54 310.84L452.43 313.18M454.83 306.55A31.35 31.35 0 0 1 452.30 307.82M454.83 306.55L484.77 359.98M452.30 307.82L453.32 310.10M454.43 303.89A28.85 28.85 0 0 1 452.46 304.98M454.43 303.89L487.41 358.44M452.46 304.98L453.58 307.22M453.87 301.29A26.35 26.35 0 0 1 452.25 302.27M453.87 301.29L490.01 356.81M452.25 302.27L453.46 304.46M403.60 360.61A88.97 88.97 0 0 1 400.90 359.37M403.60 360.61L402.14 363.93M400.90 359.37L399.33 362.63M407.70 358.41A85.36 85.36 0 0 1 403.76 356.71M407.70 358.41L405.00 365.13M403.76 356.71L402.25 360.00M411.26 356.96A82.73 82.73 0 0 1 406.76 355.18M411.26 356.96L407.89 366.24M406.76 355.18L405.72 357.59M398.82 356.93A87.73 87.73 0 0 1 396.24 355.53M398.82 356.93L396.56 361.24M396.24 355.53L393.84 359.76M388.82 350.79A87.72 87.72 0 0 1 386.45 349.06M388.82 350.79L385.99 354.78M386.45 349.06L383.50 352.95M392.94 349.86A84.62 84.62 0 0 1 389.46 347.44M392.94 349.86L388.55 356.53M389.46 347.44L387.62 349.94M396.88 348.85A81.66 81.66 0 0 1 392.88 346.24M396.88 348.85L391.17 358.19M392.88 346.24L391.18 348.67M396.82 344.58A78.08 78.08 0 0 1 390.22 339.77M396.82 344.58L394.86 347.57M390.22 339.77L381.06 351.03M400.29 332.90A66.49 66.49 0 0 1 395.84 329.34M400.29 332.90L393.46 342.26M395.84 329.34L378.69 349.03M409.54 334.17A62.61 62.61 0 0 1 400.45 328.13M409.54 334.17L397.52 356.24M400.45 328.13L398.03 331.17M418.11 333.11A58.00 58.00 0 0 1 407.41 327.52M418.11 333.11L409.00 356.10M407.41 327.52L404.86 331.35M355.70 310.02A89.29 89.29 0 0 1 354.72 307.20M355.70 310.02L352.59 311.16M354.72 307.20L351.57 308.24M359.24 311.81A86.63 86.63 0 0 1 357.71 307.74M359.24 311.81L353.71 314.05M357.71 307.74L355.20 308.61M362.32 308.32A82.49 82.49 0 0 1 360.35 302.43M362.32 308.32L358.45 309.78M360.35 302.43L350.65 305.28M362.20 320.06A87.44 87.44 0 0 1 360.87 317.46M362.20 320.06L357.63 322.48M360.87 317.46L356.23 319.71M365.96 321.28A84.73 84.73 0 0 1 363.94 317.54M365.96 321.28L359.13 325.19M363.94 317.54L361.52 318.77M369.93 322.16A81.76 81.76 0 0 1 367.54 318.02M369.93 322.16L360.71 327.85M367.54 318.02L364.93 319.42M371.73 318.36A78.27 78.27 0 0 1 368.01 311.07M371.73 318.36L368.70 320.11M368.01 311.07L354.92 316.90M377.62 320.33A74.30 74.30 0 0 1 373.31 312.96M377.62 320.33L362.38 330.46M373.31 312.96L369.78 314.76M370.70 335.64A88.99 88.99 0 0 1 368.85 333.31M370.70 335.64L367.91 337.93M368.85 333.31L365.98 335.50M371.83 332.85A86.36 86.36 0 0 1 369.22 329.39M371.83 332.85L369.77 334.48M369.22 329.39L364.14 333.01M376.88 334.18A83.33 83.33 0 0 1 372.92 329.31M376.88 334.18L369.91 340.30M372.92 329.31L370.50 331.14M376.65 342.31A89.07 89.07 0 0 1 374.57 340.17M376.65 342.31L374.16 344.81M374.57 340.17L372.00 342.59M380.97 342.04A85.88 85.88 0 0 1 377.89 339.03M380.97 342.04L376.39 346.96M377.89 339.03L375.60 341.25M397.83 321.75A59.56 59.56 0 0 1 393.30 316.78M397.83 321.75L379.41 340.56M393.30 316.78L374.86 331.78M399.44 315.73A54.22 54.22 0 0 1 392.70 306.57M399.44 315.73L395.49 319.33M392.70 306.57L375.36 316.71M399.22 308.83A50.00 50.00 0 0 1 392.09 295.08M399.22 308.83L395.83 311.33M392.09 295.08L361.28 305.39M419.11 318.19A44.00 44.00 0 0 1 400.45 299.47M419.11 318.19L412.62 330.59M400.45 299.47L395.12 302.23M355.60 300.87A86.66 86.66 0 0 1 354.94 298.17M355.60 300.87L349.84 302.36M354.94 298.17L349.15 299.47M358.81 298.67A83.01 83.01 0 0 1 357.97 294.77M358.81 298.67L355.26 299.52M357.97 294.77L348.54 296.57M351.41 293.11A89.18 89.18 0 0 1 351.01 290.28M351.41 293.11L348.03 293.65M351.01 290.28L347.62 290.71M353.83 291.33A86.52 86.52 0 0 1 353.35 287.20M353.83 291.33L351.20 291.70M353.35 287.20L347.30 287.76M351.84 281.70A87.69 87.69 0 0 1 351.81 278.89M351.84 281.70L346.94 281.84M351.81 278.89L346.90 278.87M355.33 284.30A84.32 84.32 0 0 1 355.19 280.25M355.33 284.30L347.07 284.80M355.19 280.25L351.82 280.29M359.00 282.14A80.55 80.55 0 0 1 359.00 276.33M359.00 282.14L355.24 282.28M359.00 276.33L346.96 275.90M362.06 279.23A77.44 77.44 0 0 1 362.24 273.97M362.06 279.23L358.95 279.24M362.24 273.97L347.11 272.94M352.30 267.65A87.96 87.96 0 0 1 352.71 264.86M352.30 267.65L347.70 267.04M352.71 264.86L348.14 264.10M355.74 270.82A84.18 84.18 0 0 1 356.23 266.81M355.74 270.82L347.36 269.99M356.23 266.81L352.50 266.25M410.39 278.22A29.13 29.13 0 0 1 410.60 275.61M410.39 278.22L362.10 276.60M410.60 275.61L355.96 268.81M414.10 282.17A25.57 25.57 0 0 1 414.01 277.19M414.10 282.17L353.56 289.27M414.01 277.19L410.46 276.91M419.95 283.42A20.00 20.00 0 0 1 419.50 279.58M419.95 283.42L358.36 296.72M419.50 279.58L413.93 279.69M418.30 193.91A87.88 87.88 0 0 1 421.15 193.26M418.30 193.91L417.16 189.33M421.15 193.26L420.16 188.64M412.51 194.97A88.45 88.45 0 0 1 415.32 194.12M412.51 194.97L411.24 191.02M415.32 194.12L414.19 190.13M398.94 200.61A88.43 88.43 0 0 1 401.58 199.31M398.94 200.61L397.03 196.91M401.58 199.31L399.79 195.55M401.93 203.33A84.66 84.66 0 0 1 405.76 201.55M401.93 203.33L400.26 199.95M405.76 201.55L402.60 194.27M405.32 205.62A81.13 81.13 0 0 1 409.66 203.76M405.32 205.62L403.84 202.42M409.66 203.76L405.44 193.09M408.78 207.69A77.82 77.82 0 0 1 413.30 205.92M408.78 207.69L407.48 204.66M413.30 205.92L408.32 192.01M403.45 214.71A73.88 73.88 0 0 1 412.47 210.44M403.45 214.71L394.32 198.37M412.47 210.44L411.03 206.77M388.26 205.81A89.51 89.51 0 0 1 390.73 204.14M388.26 205.81L386.49 203.27M390.73 204.14L389.05 201.55M391.48 207.92A85.95 85.95 0 0 1 395.09 205.61M391.48 207.92L389.49 204.96M395.09 205.61L391.66 199.92M373.76 220.54A88.11 88.11 0 0 1 375.74 218.39M373.76 220.54L370.41 217.55M375.74 218.39L372.49 215.29M381.74 211.89A88.70 88.70 0 0 1 384.01 210.01M381.74 211.89L379.19 208.93M384.01 210.01L381.56 206.96M382.02 216.56A85.01 85.01 0 0 1 385.22 213.78M382.02 216.56L376.89 210.97M385.22 213.78L382.86 210.94M382.02 220.60A82.09 82.09 0 0 1 385.52 217.35M382.02 220.60L374.66 213.09M385.52 217.35L383.60 215.15M385.70 221.06A79.22 79.22 0 0 1 392.02 215.79M385.70 221.06L383.75 218.95M392.02 215.79L384.00 205.08M384.25 228.23A75.17 75.17 0 0 1 391.38 221.45M384.25 228.23L374.74 219.45M391.38 221.45L388.79 218.34M370.94 225.77A86.92 86.92 0 0 1 372.75 223.52M370.94 225.77L366.46 222.28M372.75 223.52L368.39 219.88M371.72 229.91A83.80 83.80 0 0 1 374.27 226.59M371.72 229.91L364.61 224.74M374.27 226.59L371.84 224.63M361.34 240.23A87.34 87.34 0 0 1 362.68 237.66M361.34 240.23L356.63 237.89M362.68 237.66L358.05 235.15M364.59 240.29A84.42 84.42 0 0 1 366.62 236.60M364.59 240.29L362.00 238.94M366.62 236.60L359.56 232.47M364.24 231.78A88.96 88.96 0 0 1 365.85 229.30M364.24 231.78L361.15 229.84M365.85 229.30L362.84 227.26M368.17 239.86A81.46 81.46 0 0 1 371.31 234.63M368.17 239.86L365.58 238.43M371.31 234.63L365.04 230.53M355.23 253.48A88.11 88.11 0 0 1 356.13 250.70M355.23 253.48L350.93 252.17M356.13 250.70L351.88 249.24M358.11 248.31A87.05 87.05 0 0 1 359.18 245.62M358.11 248.31L352.92 246.35M359.18 245.62L354.06 243.49M362.11 248.35A83.32 83.32 0 0 1 363.74 244.53M362.11 248.35L358.63 246.97M363.74 244.53L355.30 240.66M364.15 254.83A79.20 79.20 0 0 1 366.69 248.05M364.15 254.83L355.66 252.09M366.69 248.05L362.90 246.43M353.57 259.11A88.25 88.25 0 0 1 354.28 256.26M353.57 259.11L349.33 258.12M354.28 256.26L350.08 255.13M355.93 262.57A85.21 85.21 0 0 1 356.86 258.43M355.93 262.57L348.68 261.13M356.86 258.43L353.91 257.68M382.12 266.29A58.82 58.82 0 0 1 384.42 258.56M382.12 266.29L356.37 260.49M384.42 258.56L365.34 251.41M388.69 264.04A53.02 53.02 0 0 1 394.06 251.87M388.69 264.04L383.14 262.39M394.06 251.87L369.69 237.21M395.65 259.84A47.94 47.94 0 0 1 401.45 250.05M395.65 259.84L390.99 257.79M401.45 250.05L372.97 228.24M402.62 257.36A42.87 42.87 0 0 1 409.96 248.13M402.62 257.36L398.25 254.77M409.96 248.13L387.71 224.72M409.55 255.34A38.30 38.30 0 0 1 418.90 246.91M409.55 255.34L405.97 252.49M418.90 246.91L393.27 206.74M416.20 253.32A34.83 34.83 0 0 1 424.60 247.72M416.20 253.32L413.88 250.74M424.60 247.72L407.89 212.42M422.89 254.25A29.97 29.97 0 0 1 430.83 250.51M422.89 254.25L420.19 250.21M430.83 250.51L413.91 194.53M428.84 256.59A25.00 25.00 0 0 1 433.87 254.84M428.84 256.59L426.72 252.09M433.87 254.84L419.72 193.57M426.75 191.36A88.77 88.77 0 0 1 429.66 190.98M426.75 191.36L426.20 187.56M429.66 190.98L429.23 187.17M428.66 194.70A85.19 85.19 0 0 1 432.86 194.27M428.66 194.70L428.20 191.16M432.86 194.27L432.28 186.88M425.13 198.97A81.51 81.51 0 0 1 431.13 198.12M425.13 198.97L423.18 188.05M431.13 198.12L430.75 194.46M438.43 190.01A89.19 89.19 0 0 1 441.38 190.03M438.43 190.01L438.39 186.61M441.38 190.03L441.45 186.62M435.64 193.42A85.86 85.86 0 0 1 439.89 193.34M435.64 193.42L435.33 186.69M439.89 193.34L439.91 190.01M437.82 195.99A83.23 83.23 0 0 1 444.00 196.10M437.82 195.99L437.76 193.35M444.00 196.10L444.51 186.74M447.08 192.42A87.11 87.11 0 0 1 449.95 192.72M447.08 192.42L447.56 186.95M449.95 192.72L450.60 187.27M440.86 198.97A80.25 80.25 0 0 1 447.81 199.39M440.86 198.97L440.91 195.99M447.81 199.39L448.52 192.56M458.65 193.31A87.99 87.99 0 0 1 461.47 193.99M458.65 193.31L459.65 188.82M461.47 193.99L462.62 189.53M455.13 196.29A84.37 84.37 0 0 1 459.22 197.17M455.13 196.29L456.65 188.20M459.22 197.17L460.06 193.64M451.89 198.97A81.18 81.18 0 0 1 456.51 199.82M451.89 198.97L453.64 187.69M456.51 199.82L457.18 196.70M464.66 193.45A89.37 89.37 0 0 1 467.48 194.33M464.66 193.45L465.57 190.35M467.48 194.33L468.50 191.26M453.68 202.23A78.26 78.26 0 0 1 462.77 204.48M453.68 202.23L454.21 199.36M462.77 204.48L466.08 193.88M469.57 197.21A87.33 87.33 0 0 1 472.26 198.24M469.57 197.21L471.39 192.26M472.26 198.24L474.24 193.36M480.42 201.31A87.98 87.98 0 0 1 482.97 202.71M480.42 201.31L482.57 197.22M482.97 202.71L485.25 198.69M479.72 205.61A83.87 83.87 0 0 1 483.32 207.69M479.72 205.61L481.70 202.00M483.32 207.69L487.89 200.25M474.55 206.77A80.47 80.47 0 0 1 479.83 209.57M474.55 206.77L479.83 195.85M479.83 209.57L481.54 206.63M470.43 209.48A76.27 76.27 0 0 1 475.25 211.83M470.43 209.48L477.06 194.56M475.25 211.83L477.22 208.12M465.91 210.70A73.42 73.42 0 0 1 471.61 213.18M465.91 210.70L470.92 197.71M471.61 213.18L472.86 210.61M492.95 208.74A88.44 88.44 0 0 1 495.24 210.55M492.95 208.74L495.46 205.42M495.24 210.55L497.87 207.31M492.05 212.25A85.12 85.12 0 0 1 495.31 214.93M492.05 212.25L494.10 209.63M495.31 214.93L500.21 209.28M486.99 212.10A82.20 82.20 0 0 1 491.84 215.82M486.99 212.10L492.99 203.61M491.84 215.82L493.70 213.57M482.53 213.93A78.18 78.18 0 0 1 487.00 217.11M482.53 213.93L490.47 201.89M487.00 217.11L489.45 213.91M499.75 214.28A88.57 88.57 0 0 1 501.86 216.30M499.75 214.28L502.49 211.32M501.86 216.30L504.70 213.44M498.65 217.54A85.45 85.45 0 0 1 501.63 220.54M498.65 217.54L500.81 215.28M501.63 220.54L506.83 215.63M497.20 221.96A81.28 81.28 0 0 1 500.41 225.39M497.20 221.96L500.16 219.02M500.41 225.39L508.90 217.89M496.82 225.54A78.52 78.52 0 0 1 500.03 229.19M496.82 225.54L498.83 223.65M500.03 229.19L510.89 220.22M470.95 234.96A54.28 54.28 0 0 1 480.26 243.34M470.95 234.96L484.80 215.48M480.26 243.34L498.45 227.34M458.75 234.97A48.24 48.24 0 0 1 471.80 243.37M458.75 234.97L468.79 211.88M471.80 243.37L475.85 238.88M449.63 238.17A42.27 42.27 0 0 1 462.38 243.66M449.63 238.17L458.26 203.22M462.38 243.66L465.61 238.64M441.81 240.93A38.34 38.34 0 0 1 454.68 243.99M441.81 240.93L444.34 199.10M454.68 243.99L456.23 240.39M434.75 245.53A34.00 34.00 0 0 1 447.37 246.12M434.75 245.53L428.12 198.49M447.37 246.12L448.38 241.90M527.09 270.79A87.99 87.99 0 0 1 527.32 273.69M527.09 270.79L531.68 270.35M527.32 273.69L531.92 273.40M523.36 272.55A84.12 84.12 0 0 1 523.59 276.71M523.36 272.55L527.21 272.24M523.59 276.71L532.06 276.46M525.15 253.27A89.49 89.49 0 0 1 525.96 256.11M525.15 253.27L528.13 252.37M525.96 256.11L528.97 255.31M526.16 262.10A88.34 88.34 0 0 1 526.68 264.97M526.16 262.10L530.35 261.27M526.68 264.97L530.89 264.28M522.59 259.93A85.30 85.30 0 0 1 523.44 264.07M522.59 259.93L529.71 258.28M523.44 264.07L526.44 263.53M517.62 256.95A81.22 81.22 0 0 1 519.05 262.82M517.62 256.95L525.57 254.69M519.05 262.82L523.04 261.99M515.53 260.57A78.27 78.27 0 0 1 517.13 269.15M515.53 260.57L518.39 259.87M517.13 269.15L531.33 267.31M521.86 248.19A88.00 88.00 0 0 1 522.84 250.93M521.86 248.19L526.16 246.57M522.84 250.93L527.19 249.45M517.37 246.91A84.30 84.30 0 0 1 518.88 250.80M517.37 246.91L525.04 243.73M518.88 250.80L522.36 249.56M512.56 246.03A80.24 80.24 0 0 1 514.35 250.31M512.56 246.03L523.82 240.92M514.35 250.31L518.15 248.85M514.17 232.55A88.05 88.05 0 0 1 515.67 235.05M514.17 232.55L518.04 230.14M515.67 235.05L519.61 232.76M511.78 235.70A84.36 84.36 0 0 1 513.84 239.33M511.78 235.70L514.93 233.79M513.84 239.33L521.11 235.44M509.96 239.13A81.06 81.06 0 0 1 512.16 243.27M509.96 239.13L512.83 237.50M512.16 243.27L522.51 238.16M508.78 225.71A87.53 87.53 0 0 1 510.51 228.02M508.78 225.71L512.80 222.61M510.51 228.02L514.63 225.06M506.60 229.14A83.72 83.72 0 0 1 509.00 232.52M506.60 229.14L509.66 226.86M509.00 232.52L516.37 227.57M488.04 244.83A59.48 59.48 0 0 1 492.03 251.31M488.04 244.83L507.82 230.82M492.03 251.31L511.09 241.19M485.96 250.58A54.56 54.56 0 0 1 489.81 258.09M485.96 250.58L490.14 248.00M489.81 258.09L513.49 248.16M482.60 257.05A48.46 48.46 0 0 1 487.14 270.31M482.60 257.05L488.03 254.26M487.14 270.31L516.45 264.84M481.13 264.96A44.00 44.00 0 0 1 483.43 276.81M481.13 264.96L485.35 263.51M483.43 276.81L523.50 274.63M440.86 250.23A29.00 29.00 0 0 1 467.97 273.67M440.86 250.23L441.09 245.24M467.97 273.67L482.69 270.80M444.00 283.17A6.00 6.00 0 0 1 435.25 283.44M444.00 283.17L457.49 295.09M442.59 284.34L453.07 301.79M435.25 283.44L408.34 310.26M422.61 281.16A17.00 17.00 0 0 1 433.93 263.14M422.61 281.16L419.63 281.51M433.93 263.14L431.31 255.58M439.5 279.2L439.68 285.20M439.50 279.20L425.10 270.16M439.50 279.20L458.46 257.26" fill="none" stroke="#5c5c5c" stroke-width="0.44"/>
<g fill="#000"><circle cx="533.70" cy="279.54" r="1.3"/><circle cx="533.64" cy="282.68" r="1.3"/><circle cx="533.47" cy="285.81" r="1.3"/><circle cx="532.34" cy="295.14" r="1.3"/><circle cx="531.09" cy="301.22" r="1.3"/><circle cx="530.31" cy="304.23" r="1.3"/><circle cx="529.44" cy="307.21" r="1.3"/><circle cx="528.47" cy="310.15" r="1.3"/><circle cx="527.40" cy="313.07" r="1.3"/><circle cx="526.24" cy="315.95" r="1.3"/><circle cx="524.98" cy="318.78" r="1.3"/><circle cx="523.63" cy="321.58" r="1.3"/><circle cx="522.19" cy="324.33" r="1.3"/><circle cx="520.66" cy="327.03" r="1.3"/><circle cx="519.04" cy="329.67" r="1.3"/><circle cx="517.33" cy="332.27" r="1.3"/><circle cx="515.54" cy="334.80" r="1.3"/><circle cx="513.67" cy="337.28" r="1.3"/><circle cx="507.57" cy="344.31" r="1.3"/><circle cx="505.39" cy="346.52" r="1.3"/><circle cx="500.81" cy="350.71" r="1.3"/><circle cx="498.42" cy="352.70" r="1.3"/><circle cx="495.97" cy="354.60" r="1.3"/><circle cx="493.46" cy="356.42" r="1.3"/><circle cx="490.88" cy="358.15" r="1.3"/><circle cx="485.55" cy="361.37" r="1.3"/><circle cx="482.81" cy="362.85" r="1.3"/><circle cx="480.03" cy="364.24" r="1.3"/><circle cx="474.32" cy="366.73" r="1.3"/><circle cx="465.49" cy="369.74" r="1.3"/><circle cx="462.49" cy="370.55" r="1.3"/><circle cx="459.46" cy="371.26" r="1.3"/><circle cx="456.41" cy="371.87" r="1.3"/><circle cx="453.34" cy="372.38" r="1.3"/><circle cx="450.25" cy="372.78" r="1.3"/><circle cx="447.15" cy="373.09" r="1.3"/><circle cx="444.05" cy="373.29" r="1.3"/><circle cx="440.94" cy="373.39" r="1.3"/><circle cx="437.83" cy="373.39" r="1.3"/><circle cx="434.72" cy="373.28" r="1.3"/><circle cx="431.61" cy="373.07" r="1.3"/><circle cx="428.52" cy="372.76" r="1.3"/><circle cx="425.43" cy="372.34" r="1.3"/><circle cx="422.36" cy="371.83" r="1.3"/><circle cx="419.31" cy="371.21" r="1.3"/><circle cx="416.28" cy="370.49" r="1.3"/><circle cx="413.28" cy="369.68" r="1.3"/><circle cx="410.31" cy="368.76" r="1.3"/><circle cx="404.40" cy="366.62" r="1.3"/><circle cx="401.50" cy="365.39" r="1.3"/><circle cx="398.63" cy="364.07" r="1.3"/><circle cx="395.82" cy="362.66" r="1.3"/><circle cx="393.05" cy="361.15" r="1.3"/><circle cx="390.33" cy="359.55" r="1.3"/><circle cx="387.67" cy="357.86" r="1.3"/><circle cx="385.07" cy="356.08" r="1.3"/><circle cx="382.53" cy="354.22" r="1.3"/><circle cx="380.05" cy="352.27" r="1.3"/><circle cx="377.64" cy="350.24" r="1.3"/><circle cx="373.03" cy="345.95" r="1.3"/><circle cx="370.83" cy="343.68" r="1.3"/><circle cx="368.71" cy="341.35" r="1.3"/><circle cx="366.67" cy="338.95" r="1.3"/><circle cx="362.84" cy="333.94" r="1.3"/><circle cx="361.05" cy="331.35" r="1.3"/><circle cx="359.35" cy="328.69" r="1.3"/><circle cx="357.74" cy="325.99" r="1.3"/><circle cx="356.22" cy="323.22" r="1.3"/><circle cx="354.79" cy="320.41" r="1.3"/><circle cx="353.46" cy="317.56" r="1.3"/><circle cx="352.23" cy="314.66" r="1.3"/><circle cx="351.09" cy="311.72" r="1.3"/><circle cx="350.05" cy="308.74" r="1.3"/><circle cx="349.11" cy="305.73" r="1.3"/><circle cx="348.29" cy="302.76" r="1.3"/><circle cx="347.59" cy="299.82" r="1.3"/><circle cx="346.97" cy="296.87" r="1.3"/><circle cx="346.45" cy="293.90" r="1.3"/><circle cx="346.03" cy="290.91" r="1.3"/><circle cx="345.70" cy="287.91" r="1.3"/><circle cx="345.34" cy="281.88" r="1.3"/><circle cx="345.30" cy="278.87" r="1.3"/><circle cx="345.36" cy="275.85" r="1.3"/><circle cx="345.77" cy="269.83" r="1.3"/><circle cx="346.12" cy="266.83" r="1.3"/><circle cx="346.56" cy="263.84" r="1.3"/><circle cx="347.77" cy="257.76" r="1.3"/><circle cx="348.54" cy="254.72" r="1.3"/><circle cx="349.40" cy="251.71" r="1.3"/><circle cx="350.37" cy="248.73" r="1.3"/><circle cx="351.43" cy="245.78" r="1.3"/><circle cx="352.59" cy="242.87" r="1.3"/><circle cx="353.84" cy="240.00" r="1.3"/><circle cx="355.20" cy="237.17" r="1.3"/><circle cx="356.64" cy="234.39" r="1.3"/><circle cx="358.18" cy="231.66" r="1.3"/><circle cx="359.80" cy="228.98" r="1.3"/><circle cx="361.51" cy="226.36" r="1.3"/><circle cx="363.31" cy="223.80" r="1.3"/><circle cx="365.20" cy="221.29" r="1.3"/><circle cx="367.17" cy="218.86" r="1.3"/><circle cx="369.21" cy="216.48" r="1.3"/><circle cx="371.34" cy="214.18" r="1.3"/><circle cx="373.54" cy="211.95" r="1.3"/><circle cx="375.81" cy="209.79" r="1.3"/><circle cx="378.15" cy="207.72" r="1.3"/><circle cx="380.56" cy="205.71" r="1.3"/><circle cx="383.04" cy="203.80" r="1.3"/><circle cx="385.58" cy="201.96" r="1.3"/><circle cx="388.18" cy="200.21" r="1.3"/><circle cx="390.83" cy="198.55" r="1.3"/><circle cx="393.54" cy="196.97" r="1.3"/><circle cx="396.30" cy="195.49" r="1.3"/><circle cx="399.11" cy="194.10" r="1.3"/><circle cx="401.96" cy="192.80" r="1.3"/><circle cx="404.85" cy="191.60" r="1.3"/><circle cx="407.78" cy="190.50" r="1.3"/><circle cx="410.75" cy="189.49" r="1.3"/><circle cx="413.75" cy="188.59" r="1.3"/><circle cx="416.78" cy="187.78" r="1.3"/><circle cx="419.83" cy="187.08" r="1.3"/><circle cx="422.89" cy="186.48" r="1.3"/><circle cx="425.97" cy="185.98" r="1.3"/><circle cx="432.15" cy="185.29" r="1.3"/><circle cx="435.26" cy="185.10" r="1.3"/><circle cx="438.37" cy="185.01" r="1.3"/><circle cx="441.48" cy="185.02" r="1.3"/><circle cx="444.59" cy="185.14" r="1.3"/><circle cx="447.70" cy="185.36" r="1.3"/><circle cx="450.80" cy="185.68" r="1.3"/><circle cx="456.95" cy="186.63" r="1.3"/><circle cx="460.00" cy="187.26" r="1.3"/><circle cx="463.02" cy="187.98" r="1.3"/><circle cx="477.71" cy="193.10" r="1.3"/><circle cx="480.53" cy="194.41" r="1.3"/><circle cx="486.04" cy="197.30" r="1.3"/><circle cx="488.72" cy="198.88" r="1.3"/><circle cx="496.43" cy="204.15" r="1.3"/><circle cx="498.88" cy="206.07" r="1.3"/><circle cx="501.26" cy="208.07" r="1.3"/><circle cx="503.58" cy="210.15" r="1.3"/><circle cx="505.82" cy="212.31" r="1.3"/><circle cx="508.00" cy="214.53" r="1.3"/><circle cx="510.10" cy="216.83" r="1.3"/><circle cx="512.12" cy="219.20" r="1.3"/><circle cx="514.06" cy="221.63" r="1.3"/><circle cx="519.39" cy="229.29" r="1.3"/><circle cx="522.52" cy="234.68" r="1.3"/><circle cx="523.94" cy="237.45" r="1.3"/><circle cx="525.27" cy="240.26" r="1.3"/><circle cx="526.51" cy="243.11" r="1.3"/><circle cx="527.66" cy="246.01" r="1.3"/><circle cx="528.71" cy="248.94" r="1.3"/><circle cx="529.66" cy="251.90" r="1.3"/><circle cx="531.92" cy="260.96" r="1.3"/><circle cx="532.47" cy="264.03" r="1.3"/><circle cx="532.92" cy="267.11" r="1.3"/><circle cx="533.27" cy="270.20" r="1.3"/><circle cx="533.52" cy="273.30" r="1.3"/><circle cx="533.66" cy="276.41" r="1.3"/></g>
<g font-size="3.05" fill="#000" stroke="#000" stroke-width="0.09">
<text transform="translate(539.30 279.56) rotate(0.21)" y="1.05">ISMi02 NC_003241.1</text>
<text transform="translate(539.23 282.88) rotate(2.12)" y="1.05">ISMsm1 NC_007509.1</text>
<text transform="translate(539.05 286.21) rotate(4.03)" y="1.05">Tn1071 AY334482.1</text>
<text transform="translate(538.77 289.52) rotate(5.94)" y="1.05">Tn5271 1</text>
<text transform="translate(538.37 292.82) rotate(7.85)" y="1.05">Tn5271 transposon AB048158.1 1</text>
<text transform="translate(537.86 296.09) rotate(9.74)" y="1.05">TnHad7.7 KX838383.1</text>
<text transform="translate(537.25 299.32) rotate(11.63)" y="1.05">TnAs6 AM333123.2 1</text>
<text transform="translate(536.53 302.53) rotate(13.52)" y="1.05">Tn927 p.1 MF224190.1 1</text>
<text transform="translate(535.71 305.72) rotate(15.41)" y="1.05">Tn3400 AF032675.1</text>
<text transform="translate(534.79 308.87) rotate(17.30)" y="1.05">Tn4651 KJ993895.1</text>
<text transform="translate(533.76 311.99) rotate(19.18)" y="1.05">Tn7956 KT263215.2 1</text>
<text transform="translate(532.63 315.08) rotate(21.07)" y="1.05">Tn4651 NC_168731.1</text>
<text transform="translate(531.39 318.13) rotate(22.96)" y="1.05">TnPs7b EU847484.1</text>
<text transform="translate(530.06 321.14) rotate(24.85)" y="1.05">Tn4651 AY560951.3</text>
<text transform="translate(528.63 324.10) rotate(26.74)" y="1.05">TnPs5 1</text>
<text transform="translate(527.10 327.01) rotate(28.62)" y="1.05">TnEc8.1 AJ157267.3</text>
<text transform="translate(525.48 329.87) rotate(30.51)" y="1.05">TnEc6 AJ423718.3</text>
<text transform="translate(523.76 332.68) rotate(32.40)" y="1.05">TnBth5c 1</text>
<text transform="translate(521.96 335.42) rotate(34.29)" y="1.05">Tn28.4 CP128357.2 1</text>
<text transform="translate(520.06 338.11) rotate(36.18)" y="1.05">TnPs3 deriv 12 TA JX937646.3</text>
<text transform="translate(518.07 340.73) rotate(38.06)" y="1.05">TnSku5 KX659175.3 1</text>
<text transform="translate(516.00 343.29) rotate(39.95)" y="1.05">Tn3726 U75368.2 1</text>
<text transform="translate(513.85 345.77) rotate(41.84)" y="1.05">Tn4651 KJ829922.2 1</text>
<text transform="translate(511.62 348.19) rotate(43.73)" y="1.05">Tn163a KT198481.1 1</text>
<text transform="translate(509.31 350.52) rotate(45.62)" y="1.05">Tn75 EU061780.1 1</text>
<text transform="translate(506.92 352.78) rotate(47.50)" y="1.05">TnEc7 KX625366.1 1</text>
<text transform="translate(504.46 354.97) rotate(49.39)" y="1.05">TnPs5 1</text>
<text transform="translate(501.93 357.07) rotate(51.28)" y="1.05">Tn4651 M37246.2 1</text>
<text transform="translate(499.33 359.08) rotate(53.17)" y="1.05">TnTsp9 KJ581736.2 1</text>
<text transform="translate(496.66 361.01) rotate(55.06)" y="1.05">TnHad9 AY307573.1</text>
<text transform="translate(493.93 362.85) rotate(56.95)" y="1.05">TnEc3 tnpA gene M29488.1 1</text>
<text transform="translate(491.14 364.60) rotate(58.84)" y="1.05">Tn2841c deriv TA JX198840.3</text>
<text transform="translate(488.29 366.26) rotate(60.73)" y="1.05">Tn39 tnpA gene U54618.3 1</text>
<text transform="translate(485.39 367.82) rotate(62.62)" y="1.05">Tn386 KJ814336.2</text>
<text transform="translate(482.44 369.29) rotate(64.52)" y="1.05">Tn520 tnpA gene KT823267.1 1</text>
<text transform="translate(479.44 370.66) rotate(66.41)" y="1.05">TnXc6 3k M04535.3 1</text>
<text transform="translate(476.39 371.93) rotate(68.30)" y="1.05">TnXc4 p AB924848.3 1</text>
<text transform="translate(473.31 373.10) rotate(70.20)" y="1.05">Tn3000 transposon MF123796.2</text>
<text transform="translate(470.19 374.16) rotate(72.09)" y="1.05">Tn250 tnpA gene AY267917.3 1</text>
<text transform="translate(467.04 375.13) rotate(73.98)" y="1.05">ISSod19 KT619185.1 1</text>
<text transform="translate(463.86 375.98) rotate(75.88)" y="1.05">TnSku1c KJ954913.3 1</text>
<text transform="translate(460.64 376.73) rotate(77.77)" y="1.05">TnEc2 tnpA gene AJ189704.2 1</text>
<text transform="translate(457.41 377.38) rotate(79.66)" y="1.05">Tn2302 deriv TA AF283833.3</text>
<text transform="translate(454.16 377.92) rotate(81.55)" y="1.05">Tn4135 transposon JX612341.1</text>
<text transform="translate(450.89 378.35) rotate(83.45)" y="1.05">TnAs9 Mer M19834.1</text>
<text transform="translate(447.61 378.67) rotate(85.34)" y="1.05">TnPs1.9 Mer AM708488.3</text>
<text transform="translate(444.32 378.88) rotate(87.23)" y="1.05">Tn5630 transposon 1</text>
<text transform="translate(441.02 378.99) rotate(89.12)" y="1.05">Tn156.8 1 JX401129.3</text>
<text transform="translate(437.73 378.98) rotate(-88.98)" text-anchor="end" y="1.05">TnPs8 deriv 7 TA L38661.2 1</text>
<text transform="translate(434.43 378.87) rotate(-87.09)" text-anchor="end" y="1.05">Tn9533 deriv 7 TA X15025.1 1</text>
<text transform="translate(431.14 378.65) rotate(-85.20)" text-anchor="end" y="1.05">TnPa7 deriv 7 TA M84576.2 1</text>
<text transform="translate(427.86 378.32) rotate(-83.30)" text-anchor="end" y="1.05">TnTsp8 tnpA gene 1</text>
<text transform="translate(424.59 377.88) rotate(-81.41)" text-anchor="end" y="1.05">TnPs1 U74326.2 1</text>
<text transform="translate(421.34 377.33) rotate(-79.52)" text-anchor="end" y="1.05">TnAs9.6 AJ794840.1</text>
<text transform="translate(418.11 376.68) rotate(-77.62)" text-anchor="end" y="1.05">TnXc5.8 Mer L54100.3 1</text>
<text transform="translate(414.90 375.92) rotate(-75.73)" text-anchor="end" y="1.05">TnPa5 L69550.1 1</text>
<text transform="translate(411.72 375.06) rotate(-73.84)" text-anchor="end" y="1.05">Tn3000b KJ602844.1 1</text>
<text transform="translate(408.57 374.09) rotate(-71.95)" text-anchor="end" y="1.05">Tn3000.1 KJ038781.3</text>
<text transform="translate(405.43 373.01) rotate(-70.04)" text-anchor="end" y="1.05">TnSku5 AM362322.3 1</text>
<text transform="translate(402.31 371.81) rotate(-68.12)" text-anchor="end" y="1.05">TnPa6 transposon NC_733552.1</text>
<text transform="translate(399.24 370.52) rotate(-66.21)" text-anchor="end" y="1.05">TnXc5 transposon AM253929.1</text>
<text transform="translate(396.20 369.12) rotate(-64.29)" text-anchor="end" y="1.05">TnXc7 AY210345.1</text>
<text transform="translate(393.22 367.62) rotate(-62.37)" text-anchor="end" y="1.05">TnXc6 L25147.2</text>
<text transform="translate(390.29 366.02) rotate(-60.46)" text-anchor="end" y="1.05">TnAs7 deriv 7 TA KJ384272.2</text>
<text transform="translate(387.41 364.33) rotate(-58.54)" text-anchor="end" y="1.05">TnPs7.6 X99246.2 1</text>
<text transform="translate(384.59 362.54) rotate(-56.62)" text-anchor="end" y="1.05">TnXc9.9 tnpA gene X43437.1 1</text>
<text transform="translate(381.83 360.65) rotate(-54.70)" text-anchor="end" y="1.05">Tn3a Mer CP870315.1 1</text>
<text transform="translate(379.14 358.68) rotate(-52.79)" text-anchor="end" y="1.05">TnPs7c AB766490.2 1</text>
<text transform="translate(376.52 356.62) rotate(-50.87)" text-anchor="end" y="1.05">Tn3 tnpA gene AB956737.1 1</text>
<text transform="translate(373.96 354.46) rotate(-48.95)" text-anchor="end" y="1.05">TnXo2 1</text>
<text transform="translate(371.48 352.23) rotate(-47.03)" text-anchor="end" y="1.05">TnSku4 KJ027132.1</text>
<text transform="translate(369.08 349.91) rotate(-45.12)" text-anchor="end" y="1.05">Tn3.1 X85738.2 1</text>
<text transform="translate(366.75 347.52) rotate(-43.20)" text-anchor="end" y="1.05">TnXo4.9 L31708.1</text>
<text transform="translate(364.50 345.05) rotate(-41.28)" text-anchor="end" y="1.05">TnBth3.1 LC416296.2 1</text>
<text transform="translate(362.34 342.50) rotate(-39.37)" text-anchor="end" y="1.05">TnPs2.4 AM386605.2</text>
<text transform="translate(360.27 339.88) rotate(-37.45)" text-anchor="end" y="1.05">Tn3 AJ414599.1 1</text>
<text transform="translate(358.28 337.20) rotate(-35.53)" text-anchor="end" y="1.05">Tn4739.2 KT596472.2 1</text>
<text transform="translate(356.39 334.45) rotate(-33.61)" text-anchor="end" y="1.05">TnHad7.2 U17376.1 1</text>
<text transform="translate(354.59 331.64) rotate(-31.70)" text-anchor="end" y="1.05">TnAba2 JX440930.2 1</text>
<text transform="translate(352.88 328.77) rotate(-29.78)" text-anchor="end" y="1.05">TnXc7a 1</text>
<text transform="translate(351.27 325.84) rotate(-27.86)" text-anchor="end" y="1.05">ISXca2 p.1 EU278579.1 1</text>
<text transform="translate(349.76 322.86) rotate(-25.94)" text-anchor="end" y="1.05">TnXc7 AB017638.2</text>
<text transform="translate(348.35 319.84) rotate(-24.03)" text-anchor="end" y="1.05">Tn3.5 L16720.1 1</text>
<text transform="translate(347.04 316.76) rotate(-22.11)" text-anchor="end" y="1.05">Tn3 deriv p.1 AB193218.1 1</text>
<text transform="translate(345.83 313.65) rotate(-20.19)" text-anchor="end" y="1.05">TnAs7 JX281721.1</text>
<text transform="translate(344.73 310.50) rotate(-18.28)" text-anchor="end" y="1.05">ISPa12 AB603216.1 1</text>
<text transform="translate(343.74 307.31) rotate(-16.36)" text-anchor="end" y="1.05">TnXc2 NC_066413.2 1</text>
<text transform="translate(342.87 304.16) rotate(-14.48)" text-anchor="end" y="1.05">TnSku8.9 M16449.2 1</text>
<text transform="translate(342.12 301.05) rotate(-12.65)" text-anchor="end" y="1.05">TnPs7 JX104802.2 1</text>
<text transform="translate(341.47 297.92) rotate(-10.81)" text-anchor="end" y="1.05">TnAs2 deriv 3 TA L38870.1 1</text>
<text transform="translate(340.92 294.77) rotate(-8.97)" text-anchor="end" y="1.05">Tn375 MF990527.2 1</text>
<text transform="translate(340.47 291.60) rotate(-7.14)" text-anchor="end" y="1.05">Tn7095 EU614911.2 1</text>
<text transform="translate(340.13 288.42) rotate(-5.30)" text-anchor="end" y="1.05">TnSku1a U07069.2 1</text>
<text transform="translate(339.88 285.24) rotate(-3.47)" text-anchor="end" y="1.05">Tn217 L65121.2 1</text>
<text transform="translate(339.74 282.04) rotate(-1.63)" text-anchor="end" y="1.05">TnAba7 CP158116.3 1</text>
<text transform="translate(339.70 278.85) rotate(0.20)" text-anchor="end" y="1.05">Tn332.2 Mer L60663.2</text>
<text transform="translate(339.76 275.65) rotate(2.04)" text-anchor="end" y="1.05">TnEc7 NC_295305.2</text>
<text transform="translate(339.93 272.46) rotate(3.88)" text-anchor="end" y="1.05">ISPa25 JX592765.3 1</text>
<text transform="translate(340.20 269.27) rotate(5.71)" text-anchor="end" y="1.05">TnXo6 X14633.3 1</text>
<text transform="translate(340.56 266.09) rotate(7.55)" text-anchor="end" y="1.05">Tn6858.3 AB482059.2 1</text>
<text transform="translate(341.04 262.93) rotate(9.38)" text-anchor="end" y="1.05">Tn4973.3 MF895123.2 1</text>
<text transform="translate(341.62 259.73) rotate(11.25)" text-anchor="end" y="1.05">TnSku6.5 X13502.2 1</text>
<text transform="translate(342.32 256.48) rotate(13.16)" text-anchor="end" y="1.05">TnPa5 CP404482.3</text>
<text transform="translate(343.13 253.26) rotate(15.06)" text-anchor="end" y="1.05">Tn167 X40658.2 1</text>
<text transform="translate(344.05 250.07) rotate(16.97)" text-anchor="end" y="1.05">TnBth4 1</text>
<text transform="translate(345.07 246.91) rotate(18.88)" text-anchor="end" y="1.05">ISMsm13 AJ012069.3 1</text>
<text transform="translate(346.19 243.79) rotate(20.78)" text-anchor="end" y="1.05">TnTsp2 CP859731.1 1</text>
<text transform="translate(347.42 240.71) rotate(22.69)" text-anchor="end" y="1.05">TnPs1 NC_124453.3</text>
<text transform="translate(348.75 237.67) rotate(24.59)" text-anchor="end" y="1.05">Tn502 AM218201.1 1</text>
<text transform="translate(350.18 234.67) rotate(26.50)" text-anchor="end" y="1.05">TnEc1.3 M91051.2</text>
<text transform="translate(351.71 231.73) rotate(28.40)" text-anchor="end" y="1.05">TnAs7 tnpA AF340958.2</text>
<text transform="translate(353.34 228.84) rotate(30.31)" text-anchor="end" y="1.05">TnAba4 MF234773.1</text>
<text transform="translate(355.06 226.00) rotate(32.21)" text-anchor="end" y="1.05">TnXo9 AF243148.3 1</text>
<text transform="translate(356.88 223.22) rotate(34.12)" text-anchor="end" y="1.05">TnSku4 CP700706.1</text>
<text transform="translate(358.79 220.50) rotate(36.03)" text-anchor="end" y="1.05">Tn163 AJ250332.3</text>
<text transform="translate(360.78 217.85) rotate(37.93)" text-anchor="end" y="1.05">TnAba6 Mer AJ125014.2 1</text>
<text transform="translate(362.87 215.27) rotate(39.84)" text-anchor="end" y="1.05">TnHad9 M41130.3 1</text>
<text transform="translate(365.03 212.76) rotate(41.74)" text-anchor="end" y="1.05">TnHad3.6 AB479759.1</text>
<text transform="translate(367.28 210.32) rotate(43.65)" text-anchor="end" y="1.05">Tn6186 1</text>
<text transform="translate(369.61 207.95) rotate(45.55)" text-anchor="end" y="1.05">TnPs5 EU299966.2 1</text>
<text transform="translate(372.02 205.67) rotate(47.46)" text-anchor="end" y="1.05">TnPs4 KX788425.1 1</text>
<text transform="translate(374.50 203.47) rotate(49.36)" text-anchor="end" y="1.05">TnSku5 AF578178.3</text>
<text transform="translate(377.06 201.35) rotate(51.27)" text-anchor="end" y="1.05">TnPs7c JX015770.2</text>
<text transform="translate(379.68 199.31) rotate(53.17)" text-anchor="end" y="1.05">TnTsp8.5 LC960438.1 1</text>
<text transform="translate(382.37 197.37) rotate(55.08)" text-anchor="end" y="1.05">Tn4879 AM337423.2</text>
<text transform="translate(385.12 195.51) rotate(56.99)" text-anchor="end" y="1.05">Tn163.1 AM796121.2 1</text>
<text transform="translate(387.94 193.75) rotate(58.89)" text-anchor="end" y="1.05">TnPa5.5 AJ066609.2 1</text>
<text transform="translate(390.81 192.08) rotate(60.80)" text-anchor="end" y="1.05">TnAs7 deriv 7 TA L33912.2 1</text>
<text transform="translate(393.73 190.51) rotate(62.70)" text-anchor="end" y="1.05">Tn163 AF489947.2</text>
<text transform="translate(396.71 189.04) rotate(64.61)" text-anchor="end" y="1.05">Tn99.9 1</text>
<text transform="translate(399.73 187.67) rotate(66.51)" text-anchor="end" y="1.05">TnBth5 NC_636371.3 1</text>
<text transform="translate(402.79 186.40) rotate(68.42)" text-anchor="end" y="1.05">TnEc9 M49860.1 1</text>
<text transform="translate(405.90 185.23) rotate(70.32)" text-anchor="end" y="1.05">Tn2564c deriv 12 TA 1</text>
<text transform="translate(409.04 184.16) rotate(72.23)" text-anchor="end" y="1.05">Tn6088 L93639.3 1</text>
<text transform="translate(412.22 183.20) rotate(74.14)" text-anchor="end" y="1.05">Tn163 JX913379.3</text>
<text transform="translate(415.43 182.35) rotate(76.04)" text-anchor="end" y="1.05">Tn856 MF401473.2 1</text>
<text transform="translate(418.66 181.60) rotate(77.95)" text-anchor="end" y="1.05">TnEc6.1 U91778.3 1</text>
<text transform="translate(421.91 180.96) rotate(79.85)" text-anchor="end" y="1.05">TnXc2 JX634391.2 1</text>
<text transform="translate(425.16 180.44) rotate(81.74)" text-anchor="end" y="1.05">ISSod2 KT419636.3 1</text>
<text transform="translate(428.43 180.02) rotate(83.63)" text-anchor="end" y="1.05">TnEc1 chr KJ195597.3 1</text>
<text transform="translate(431.72 179.70) rotate(85.53)" text-anchor="end" y="1.05">TnEc9.1 p AM804958.3</text>
<text transform="translate(435.01 179.50) rotate(87.42)" text-anchor="end" y="1.05">TnPs8b AB907788.2</text>
<text transform="translate(438.30 179.41) rotate(89.31)" text-anchor="end" y="1.05">TnBth7 Mer NC_253642.1 1</text>
<text transform="translate(441.60 179.42) rotate(271.21)" y="1.05">TnTsp6 U93320.1 1</text>
<text transform="translate(444.90 179.55) rotate(273.10)" y="1.05">Tn713.5 1</text>
<text transform="translate(448.19 179.78) rotate(274.99)" y="1.05">ISXca39 NC_399525.1</text>
<text transform="translate(451.47 180.12) rotate(276.89)" y="1.05">Tn5693 1</text>
<text transform="translate(454.73 180.57) rotate(278.78)" y="1.05">Tn964.6 Mer L98611.3 1</text>
<text transform="translate(457.99 181.13) rotate(280.67)" y="1.05">Tn5279.5 1</text>
<text transform="translate(461.22 181.79) rotate(282.57)" y="1.05">TnBth5 KX121783.3 1</text>
<text transform="translate(464.42 182.56) rotate(284.46)" y="1.05">TnAba9.7 X77898.1</text>
<text transform="translate(467.60 183.44) rotate(286.35)" y="1.05">TnPa1b tnpA gene AY974835.3</text>
<text transform="translate(470.75 184.42) rotate(288.25)" y="1.05">TnAba6 KJ883931.2 1</text>
<text transform="translate(473.86 185.50) rotate(290.14)" y="1.05">TnTsp7 U85181.2 1</text>
<text transform="translate(476.94 186.69) rotate(292.03)" y="1.05">Tn781 KX173737.3</text>
<text transform="translate(479.98 187.98) rotate(293.93)" y="1.05">Tn21 U52881.1</text>
<text transform="translate(482.97 189.36) rotate(295.82)" y="1.05">TnAs3.1 AJ302754.2</text>
<text transform="translate(485.91 190.85) rotate(297.71)" y="1.05">Tn887c KX670394.1 1</text>
<text transform="translate(488.81 192.43) rotate(299.61)" y="1.05">Tn3190 AB657006.3 1</text>
<text transform="translate(491.65 194.11) rotate(301.50)" y="1.05">TnXo1.6 EU856299.2 1</text>
<text transform="translate(494.43 195.88) rotate(303.39)" y="1.05">ISPsy29.1 p AY236736.2</text>
<text transform="translate(497.15 197.74) rotate(305.29)" y="1.05">Tn21 LC621025.1</text>
<text transform="translate(499.81 199.69) rotate(307.18)" y="1.05">ISMsm15a KT318212.2</text>
<text transform="translate(502.41 201.72) rotate(309.07)" y="1.05">Tn21 Mer U43126.2</text>
<text transform="translate(504.93 203.84) rotate(310.97)" y="1.05">Tn5123 X37492.1 1</text>
<text transform="translate(507.39 206.05) rotate(312.86)" y="1.05">Tn445b KJ347042.1 1</text>
<text transform="translate(509.77 208.33) rotate(314.76)" y="1.05">TnTsp5.9 AF100547.1</text>
<text transform="translate(512.07 210.69) rotate(316.65)" y="1.05">TnEc4 JX764586.2 1</text>
<text transform="translate(514.29 213.13) rotate(318.54)" y="1.05">TnTsp3 MF299206.3 1</text>
<text transform="translate(516.44 215.63) rotate(320.44)" y="1.05">Tn21 1</text>
<text transform="translate(518.49 218.21) rotate(322.33)" y="1.05">Tn21 EU219515.2</text>
<text transform="translate(520.47 220.85) rotate(324.22)" y="1.05">TnTsp4 AM474673.2 1</text>
<text transform="translate(522.35 223.56) rotate(326.12)" y="1.05">TnPs9.5 chr EU951417.2</text>
<text transform="translate(524.14 226.33) rotate(328.01)" y="1.05">TnXc8 EU110681.2</text>
<text transform="translate(525.84 229.15) rotate(329.90)" y="1.05">Tn21 EU630027.1 1</text>
<text transform="translate(527.45 232.03) rotate(331.80)" y="1.05">Tn2027.1 AY526118.2 1</text>
<text transform="translate(528.96 234.96) rotate(333.69)" y="1.05">TnXc4 KX774463.2</text>
<text transform="translate(530.37 237.94) rotate(335.58)" y="1.05">Tn2441 AY832888.3</text>
<text transform="translate(531.69 240.97) rotate(337.48)" y="1.05">TnHad6 X35637.1 1</text>
<text transform="translate(532.90 244.04) rotate(339.37)" y="1.05">Tn5463 KX399321.3</text>
<text transform="translate(534.01 247.14) rotate(341.26)" y="1.05">TnEc7.6 EU145758.3</text>
<text transform="translate(535.02 250.28) rotate(343.16)" y="1.05">Tn21b KX496128.2</text>
<text transform="translate(535.92 253.45) rotate(345.05)" y="1.05">TnPs4.2 1</text>
<text transform="translate(536.72 256.65) rotate(346.94)" y="1.05">ISXca32.2 CP980377.1 1</text>
<text transform="translate(537.41 259.88) rotate(348.84)" y="1.05">TnHad7 AJ599125.3</text>
<text transform="translate(538.00 263.12) rotate(350.73)" y="1.05">Tn21b U17072.1</text>
<text transform="translate(538.47 266.39) rotate(352.62)" y="1.05">TnHad9 JX120241.3 1</text>
<text transform="translate(538.84 269.66) rotate(354.52)" y="1.05">ISXca40 KT078613.3 1</text>
<text transform="translate(539.10 272.95) rotate(356.41)" y="1.05">ISPsy27c JX040718.3 1</text>
<text transform="translate(539.26 276.25) rotate(358.30)" y="1.05">TnTsp8.4 KJ277279.1 1</text>
</g>
</g>
<g id="markers">
<rect x="-2.05" y="-2.05" width="4.1" height="4.1" fill="#1e73be" transform="translate(299.16 92.45) rotate(-126.9)"/>
<rect x="-2.05" y="-2.05" width="4.1" height="4.1" fill="#1e73be" transform="translate(359.95 59.56) rotate(-109.9)"/>
<rect x="-2.05" y="-2.05" width="4.1" height="4.1" fill="#1e73be" transform="translate(367.22 57.06) rotate(-108.0)"/>
<rect x="-2.05" y="-2.05" width="4.1" height="4.1" fill="#159447" transform="translate(298.41 103.93) rotate(-128.8)"/>
<rect x="-2.05" y="-2.05" width="4.1" height="4.1" fill="#159447" transform="translate(304.31 99.34) rotate(-126.9)"/>
<rect x="-2.05" y="-2.05" width="4.1" height="4.1" fill="#159447" transform="translate(363.03 67.59) rotate(-109.9)"/>
<rect x="-2.05" y="-2.05" width="4.1" height="4.1" fill="#159447" transform="translate(369.91 65.23) rotate(-108.0)"/>
<rect x="-2.05" y="-2.05" width="4.1" height="4.1" fill="#e0a80f" transform="translate(301.20 107.20) rotate(-128.8)"/>
<rect x="-2.05" y="-2.05" width="4.1" height="4.1" fill="#e0a80f" transform="translate(306.95 102.74) rotate(-126.9)"/>
<rect x="-2.05" y="-2.05" width="4.1" height="4.1" fill="#e0a80f" transform="translate(364.66 71.58) rotate(-109.8)"/>
<rect x="-2.05" y="-2.05" width="4.1" height="4.1" fill="#e0a80f" transform="translate(371.18 69.34) rotate(-108.0)"/>
<circle cx="315.00" cy="102.20" r="1.9" fill="#4da3ea"/>
<circle cx="317.76" cy="105.64" r="1.9" fill="#8c9b9d"/>
<circle cx="336.23" cy="108.86" r="1.9" fill="#d9a40f"/>
<circle cx="341.76" cy="105.63" r="1.9" fill="#d9a40f"/>
<polygon points="-1.7,-2.1 2.3,0 -1.7,2.1" fill="#e53525" transform="translate(329.90 68.50) rotate(-117.5)"/>
<polygon points="-1.7,-2.1 2.3,0 -1.7,2.1" fill="#e53525" transform="translate(337.15 64.89) rotate(-115.5)"/>
<polygon points="-1.7,-2.1 2.3,0 -1.7,2.1" fill="#e53525" transform="translate(351.29 58.69) rotate(-111.8)"/>
<polygon points="-1.7,-2.1 2.3,0 -1.7,2.1" fill="#e53525" transform="translate(373.70 51.00) rotate(-106.1)"/>
<polygon points="-1.7,-2.1 2.3,0 -1.7,2.1" fill="#e53525" transform="translate(466.70 43.26) rotate(-83.4)"/>
<rect x="-2.05" y="-2.05" width="4.1" height="4.1" fill="#e8382f" transform="translate(480.81 53.65) rotate(-79.6)"/>
<rect x="-2.05" y="-2.05" width="4.1" height="4.1" fill="#e8382f" transform="translate(524.49 66.23) rotate(-68.2)"/>
<rect x="-2.05" y="-2.05" width="4.1" height="4.1" fill="#159447" transform="translate(479.99 57.87) rotate(-79.6)"/>
<rect x="-2.05" y="-2.05" width="4.1" height="4.1" fill="#159447" transform="translate(523.08 70.30) rotate(-68.2)"/>
<rect x="-2.05" y="-2.05" width="4.1" height="4.1" fill="#e0a80f" transform="translate(479.51 62.16) rotate(-79.6)"/>
<rect x="-2.05" y="-2.05" width="4.1" height="4.1" fill="#e0a80f" transform="translate(521.40 74.26) rotate(-68.2)"/>
<circle cx="422.01" cy="67.92" r="1.9" fill="#8c9b9d"/>
<circle cx="428.81" cy="67.47" r="1.9" fill="#8c9b9d"/>
<circle cx="435.80" cy="67.23" r="1.9" fill="#8c9b9d"/>
<circle cx="442.80" cy="67.23" r="1.9" fill="#8c9b9d"/>
<circle cx="456.79" cy="67.91" r="1.9" fill="#8c9b9d"/>
<circle cx="435.80" cy="71.43" r="1.9" fill="#8e2fc0"/>
<polygon points="-1.7,-2.1 2.3,0 -1.7,2.1" fill="#109c47" transform="translate(329.24 151.52) rotate(-90.0)"/>
<polygon points="-1.7,-2.1 2.3,0 -1.7,2.1" fill="#109c47" transform="translate(333.67 147.82) rotate(-90.0)"/>
<polygon points="-1.7,-2.1 2.3,0 -1.7,2.1" fill="#109c47" transform="translate(338.01 144.44) rotate(-90.0)"/>
<polygon points="-1.7,-2.1 2.3,0 -1.7,2.1" fill="#109c47" transform="translate(342.64 141.08) rotate(-90.0)"/>
<polygon points="-1.7,-2.1 2.3,0 -1.7,2.1" fill="#109c47" transform="translate(351.88 135.04) rotate(-90.0)"/>
<polygon points="-1.7,-2.1 2.3,0 -1.7,2.1" fill="#109c47" transform="translate(356.66 132.24) rotate(-90.0)"/>
<polygon points="-1.7,-2.1 2.3,0 -1.7,2.1" fill="#109c47" transform="translate(361.62 129.55) rotate(-90.0)"/>
<polygon points="-1.7,-2.1 2.3,0 -1.7,2.1" fill="#109c47" transform="translate(366.71 127.01) rotate(-90.0)"/>
<polygon points="-1.7,-2.1 2.3,0 -1.7,2.1" fill="#109c47" transform="translate(377.02 122.50) rotate(-90.0)"/>
<polygon points="-1.7,-2.1 2.3,0 -1.7,2.1" fill="#109c47" transform="translate(382.15 120.55) rotate(-90.0)"/>
<polygon points="-1.7,-2.1 2.3,0 -1.7,2.1" fill="#109c47" transform="translate(387.50 118.71) rotate(-90.0)"/>
<polygon points="-1.7,-2.1 2.3,0 -1.7,2.1" fill="#109c47" transform="translate(392.82 117.09) rotate(-90.0)"/>
<polygon points="-1.7,-2.1 2.3,0 -1.7,2.1" fill="#109c47" transform="translate(398.33 115.60) rotate(-90.0)"/>
<polygon points="-1.7,-2.1 2.3,0 -1.7,2.1" fill="#109c47" transform="translate(403.73 114.34) rotate(-90.0)"/>
<polygon points="-1.7,-2.1 2.3,0 -1.7,2.1" fill="#109c47" transform="translate(469.91 113.26) rotate(-90.0)"/>
<polygon points="-1.7,-2.1 2.3,0 -1.7,2.1" fill="#109c47" transform="translate(501.74 122.40) rotate(-90.0)"/>
<polygon points="-1.7,-2.1 2.3,0 -1.7,2.1" fill="#109c47" transform="translate(506.79 124.50) rotate(-90.0)"/>
<circle cx="339.96" cy="137.34" r="1.95" fill="#ee3b24"/>
<polygon points="345.00,142.41 345.50,143.62 346.81,143.72 345.81,144.57 346.12,145.84 345.00,145.16 343.89,145.84 344.20,144.57 343.20,143.72 344.50,143.62" fill="#109c47"/>
<polygon points="447.49,112.79 447.99,114.01 449.30,114.11 448.30,114.96 448.61,116.23 447.49,115.54 446.37,116.23 446.68,114.96 445.68,114.11 446.99,114.01" fill="#109c47"/>
<polygon points="469.49,115.35 469.99,116.57 471.30,116.67 470.30,117.52 470.61,118.79 469.49,118.10 468.37,118.79 468.68,117.52 467.68,116.67 468.99,116.57" fill="#109c47"/>
<polygon points="501.13,124.57 501.63,125.78 502.94,125.88 501.94,126.73 502.25,128.00 501.13,127.32 500.02,128.00 500.32,126.73 499.33,125.88 500.63,125.78" fill="#109c47"/>
<polygon points="505.75,126.51 506.25,127.72 507.56,127.83 506.56,128.67 506.87,129.95 505.75,129.26 504.63,129.95 504.94,128.67 503.94,127.83 505.25,127.72" fill="#109c47"/>
<polygon points="347.44,145.95 347.94,147.16 349.24,147.26 348.24,148.11 348.55,149.39 347.44,148.70 346.32,149.39 346.63,148.11 345.63,147.26 346.94,147.16" fill="#f03a28"/>
<polygon points="499.24,128.44 499.74,129.65 501.05,129.75 500.05,130.60 500.36,131.88 499.24,131.19 498.13,131.88 498.43,130.60 497.44,129.75 498.74,129.65" fill="#f03a28"/>
<polygon points="503.99,130.43 504.48,131.65 505.79,131.75 504.79,132.60 505.10,133.87 503.99,133.18 502.87,133.87 503.18,132.60 502.18,131.75 503.49,131.65" fill="#f03a28"/>
<polygon points="-1.7,-2.1 2.3,0 -1.7,2.1" fill="#109c47" transform="translate(313.35 167.19) rotate(-135.0)"/>
<polygon points="-1.7,-2.1 2.3,0 -1.7,2.1" fill="#109c47" transform="translate(276.59 235.39) rotate(180.0)"/>
<circle cx="281.14" cy="138.25" r="1.9" fill="#8c9b9d"/>
<circle cx="245.22" cy="205.47" r="1.9" fill="#8e2fc0"/>
<circle cx="519.73" cy="78.22" r="1.9" fill="#4da3ea"/>
<circle cx="526.31" cy="80.98" r="1.9" fill="#4da3ea"/>
<circle cx="524.51" cy="84.99" r="1.9" fill="#8c9b9d"/>
<circle cx="549.51" cy="97.98" r="1.9" fill="#8c9b9d"/>
<circle cx="566.81" cy="109.68" r="1.9" fill="#8c9b9d"/>
<circle cx="572.33" cy="113.97" r="1.9" fill="#8c9b9d"/>
<circle cx="588.05" cy="127.95" r="1.9" fill="#8c9b9d"/>
<circle cx="593.01" cy="132.99" r="1.9" fill="#8c9b9d"/>
<circle cx="597.81" cy="138.20" r="1.9" fill="#8c9b9d"/>
<circle cx="602.40" cy="143.53" r="1.9" fill="#8c9b9d"/>
<circle cx="606.86" cy="149.07" r="1.9" fill="#8c9b9d"/>
<circle cx="618.87" cy="166.19" r="1.9" fill="#8c9b9d"/>
<circle cx="625.92" cy="178.24" r="1.9" fill="#8c9b9d"/>
<circle cx="632.34" cy="191.13" r="1.9" fill="#8c9b9d"/>
<circle cx="642.21" cy="217.14" r="1.9" fill="#8c9b9d"/>
<circle cx="644.23" cy="224.14" r="1.9" fill="#8c9b9d"/>
<circle cx="596.37" cy="130.14" r="1.9" fill="#4da3ea"/>
<circle cx="538.29" cy="116.32" r="1.9" fill="#0f9d3f"/>
<circle cx="553.85" cy="126.84" r="1.9" fill="#0f9d3f"/>
<circle cx="623.45" cy="229.66" r="1.9" fill="#0f9d3f"/>
<polygon points="-1.7,-2.1 2.3,0 -1.7,2.1" fill="#1a6bc0" transform="translate(580.81 144.69) rotate(135.0)"/>
<polygon points="-1.7,-2.1 2.3,0 -1.7,2.1" fill="#109c47" transform="translate(561.71 162.91) rotate(-60.0)"/>
<polygon points="558.83,163.78 559.33,164.99 560.63,165.09 559.64,165.94 559.94,167.22 558.83,166.53 557.71,167.22 558.02,165.94 557.02,165.09 558.33,164.99" fill="#109c47"/>
<polygon points="562.52,167.79 563.02,169.00 564.32,169.10 563.32,169.95 563.63,171.22 562.52,170.54 561.40,171.22 561.71,169.95 560.71,169.10 562.02,169.00" fill="#109c47"/>
<polygon points="555.78,166.82 556.28,168.03 557.59,168.13 556.59,168.98 556.90,170.25 555.78,169.57 554.67,170.25 554.97,168.98 553.98,168.13 555.28,168.03" fill="#f03a28"/>
<circle cx="628.36" cy="192.53" r="1.9" fill="#8e2fc0"/>
<circle cx="631.14" cy="198.86" r="1.9" fill="#8e2fc0"/>
<circle cx="633.73" cy="205.34" r="1.9" fill="#8e2fc0"/>
<polygon points="-1.7,-2.1 2.3,0 -1.7,2.1" fill="#1a6bc0" transform="translate(630.77 240.71) rotate(180.0)"/>
<polygon points="-1.7,-2.1 2.3,0 -1.7,2.1" fill="#1a6bc0" transform="translate(632.01 247.50) rotate(180.0)"/>
<polygon points="-1.7,-2.1 2.3,0 -1.7,2.1" fill="#1a6bc0" transform="translate(632.92 253.68) rotate(180.0)"/>
<circle cx="647.39" cy="237.66" r="1.9" fill="#8c9b9d"/>
<circle cx="648.64" cy="244.48" r="1.9" fill="#8c9b9d"/>
<circle cx="649.68" cy="251.48" r="1.9" fill="#8c9b9d"/>
<circle cx="650.48" cy="258.47" r="1.9" fill="#8c9b9d"/>
<circle cx="651.04" cy="265.30" r="1.9" fill="#8c9b9d"/>
<circle cx="651.39" cy="272.30" r="1.9" fill="#8c9b9d"/>
<circle cx="651.70" cy="236.76" r="1.9" fill="#4da3ea"/>
<circle cx="652.98" cy="243.77" r="1.9" fill="#4da3ea"/>
<circle cx="654.02" cy="250.76" r="1.9" fill="#4da3ea"/>
<circle cx="655.43" cy="264.99" r="1.9" fill="#4da3ea"/>
<circle cx="655.79" cy="272.29" r="1.9" fill="#4da3ea"/>
<rect x="-2.05" y="-2.05" width="4.1" height="4.1" fill="#e0a80f" transform="translate(660.08 272.00) rotate(-1.9)"/>
<rect x="-2.05" y="-2.05" width="4.1" height="4.1" fill="#159447" transform="translate(664.38 271.99) rotate(-1.8)"/>
<rect x="-2.05" y="-2.05" width="4.1" height="4.1" fill="#1e73be" transform="translate(672.98 271.79) rotate(-1.8)"/>
<polygon points="-1.7,-2.1 2.3,0 -1.7,2.1" fill="#e53525" transform="translate(673.79 240.29) rotate(0.0)"/>
<polygon points="601.05,245.25 601.55,246.46 602.86,246.56 601.86,247.41 602.17,248.69 601.05,248.00 599.93,248.69 600.24,247.41 599.24,246.56 600.55,246.46" fill="#109c47"/>
<polygon points="602.05,250.79 602.55,252.00 603.86,252.10 602.86,252.95 603.17,254.23 602.05,253.54 600.94,254.23 601.24,252.95 600.25,252.10 601.55,252.00" fill="#109c47"/>
<polygon points="602.83,256.10 603.33,257.31 604.64,257.41 603.64,258.26 603.95,259.53 602.83,258.85 601.71,259.53 602.02,258.26 601.02,257.41 602.33,257.31" fill="#109c47"/>
<polygon points="603.85,266.60 604.35,267.81 605.66,267.91 604.66,268.76 604.97,270.03 603.85,269.35 602.74,270.03 603.04,268.76 602.04,267.91 603.35,267.81" fill="#109c47"/>
<polygon points="604.12,272.09 604.62,273.30 605.92,273.40 604.93,274.25 605.23,275.53 604.12,274.84 603.00,275.53 603.31,274.25 602.31,273.40 603.62,273.30" fill="#109c47"/>
<polygon points="-1.7,-2.1 2.3,0 -1.7,2.1" fill="#109c47" transform="translate(604.94 246.21) rotate(0.0)"/>
<polygon points="-1.7,-2.1 2.3,0 -1.7,2.1" fill="#109c47" transform="translate(605.96 251.77) rotate(0.0)"/>
<polygon points="-1.7,-2.1 2.3,0 -1.7,2.1" fill="#109c47" transform="translate(606.80 257.49) rotate(0.0)"/>
<polygon points="-1.7,-2.1 2.3,0 -1.7,2.1" fill="#109c47" transform="translate(607.85 268.31) rotate(0.0)"/>
<polygon points="-1.7,-2.1 2.3,0 -1.7,2.1" fill="#109c47" transform="translate(608.11 273.70) rotate(0.0)"/>
<circle cx="609.45" cy="245.31" r="1.95" fill="#ee3b24"/>
<circle cx="610.49" cy="251.00" r="1.95" fill="#ee3b24"/>
<polygon points="598.54,256.42 599.03,257.63 600.34,257.73 599.34,258.58 599.65,259.86 598.54,259.17 597.42,259.86 597.73,258.58 596.73,257.73 598.04,257.63" fill="#f03a28"/>
<polygon points="599.56,266.81 600.06,268.02 601.36,268.12 600.36,268.97 600.67,270.25 599.56,269.56 598.44,270.25 598.75,268.97 597.75,268.12 599.06,268.02" fill="#f03a28"/>
<polygon points="599.83,272.40 600.32,273.61 601.63,273.71 600.63,274.56 600.94,275.83 599.83,275.15 598.71,275.83 599.02,274.56 598.02,273.71 599.33,273.61" fill="#f03a28"/>
<polygon points="-1.7,-2.1 2.3,0 -1.7,2.1" fill="#109c47" transform="translate(587.76 359.68) rotate(-90.0)"/>
<circle cx="628.94" cy="374.37" r="1.9" fill="#8c9b9d"/>
<circle cx="618.60" cy="392.64" r="1.9" fill="#8c9b9d"/>
<circle cx="614.83" cy="398.39" r="1.9" fill="#8c9b9d"/>
<circle cx="610.75" cy="404.17" r="1.9" fill="#8c9b9d"/>
<polygon points="431.14,441.79 431.64,443.00 432.94,443.10 431.94,443.95 432.25,445.22 431.14,444.54 430.02,445.22 430.33,443.95 429.33,443.10 430.64,443.00" fill="#109c47"/>
<circle cx="430.70" cy="457.08" r="1.9" fill="#1e73be"/>
<circle cx="442.89" cy="491.17" r="1.9" fill="#8c9b9d"/>
<rect x="-2.05" y="-2.05" width="4.1" height="4.1" fill="#e0a80f" transform="translate(421.11 499.13) rotate(94.8)"/>
<rect x="-2.05" y="-2.05" width="4.1" height="4.1" fill="#e0a80f" transform="translate(450.40 499.63) rotate(87.2)"/>
<rect x="-2.05" y="-2.05" width="4.1" height="4.1" fill="#e0a80f" transform="translate(465.04 498.42) rotate(83.4)"/>
<rect x="-2.05" y="-2.05" width="4.1" height="4.1" fill="#e0a80f" transform="translate(472.09 497.48) rotate(81.5)"/>
<rect x="-2.05" y="-2.05" width="4.1" height="4.1" fill="#e0a80f" transform="translate(479.16 496.31) rotate(79.6)"/>
<rect x="-2.05" y="-2.05" width="4.1" height="4.1" fill="#159447" transform="translate(450.40 503.94) rotate(87.2)"/>
<rect x="-2.05" y="-2.05" width="4.1" height="4.1" fill="#159447" transform="translate(465.55 502.69) rotate(83.4)"/>
<rect x="-2.05" y="-2.05" width="4.1" height="4.1" fill="#159447" transform="translate(472.80 501.72) rotate(81.5)"/>
<rect x="-2.05" y="-2.05" width="4.1" height="4.1" fill="#159447" transform="translate(480.09 500.51) rotate(79.6)"/>
<rect x="-2.05" y="-2.05" width="4.1" height="4.1" fill="#e8382f" transform="translate(465.96 506.97) rotate(83.4)"/>
<rect x="-2.05" y="-2.05" width="4.1" height="4.1" fill="#e8382f" transform="translate(473.49 505.97) rotate(81.5)"/>
<rect x="-2.05" y="-2.05" width="4.1" height="4.1" fill="#e8382f" transform="translate(480.80 504.75) rotate(79.6)"/>
<rect x="-2.05" y="-2.05" width="4.1" height="4.1" fill="#1e73be" transform="translate(466.39 511.25) rotate(83.4)"/>
<rect x="-2.05" y="-2.05" width="4.1" height="4.1" fill="#1e73be" transform="translate(473.93 510.25) rotate(81.5)"/>
<rect x="-2.05" y="-2.05" width="4.1" height="4.1" fill="#1e73be" transform="translate(481.54 508.99) rotate(79.6)"/>
<polygon points="-1.7,-2.1 2.3,0 -1.7,2.1" fill="#e53525" transform="translate(427.82 516.41) rotate(90.0)"/>
<circle cx="301.40" cy="440.05" r="1.9" fill="#8c9b9d"/>
<circle cx="312.25" cy="448.76" r="1.9" fill="#8c9b9d"/>
<circle cx="323.92" cy="456.92" r="1.9" fill="#8c9b9d"/>
<circle cx="329.78" cy="460.60" r="1.9" fill="#8c9b9d"/>
<circle cx="335.77" cy="464.09" r="1.9" fill="#8c9b9d"/>
<circle cx="348.18" cy="470.52" r="1.9" fill="#8c9b9d"/>
<circle cx="354.39" cy="473.37" r="1.9" fill="#8c9b9d"/>
<circle cx="321.36" cy="460.50" r="1.9" fill="#4da3ea"/>
<rect x="-2.05" y="-2.05" width="4.1" height="4.1" fill="#e0a80f" transform="translate(318.93 464.05) rotate(123.1)"/>
<rect x="-2.05" y="-2.05" width="4.1" height="4.1" fill="#159447" transform="translate(316.52 467.62) rotate(123.1)"/>
<polygon points="351.70,411.54 352.20,412.75 353.51,412.85 352.51,413.70 352.82,414.97 351.70,414.29 350.59,414.97 350.89,413.70 349.90,412.85 351.20,412.75" fill="#f03a28"/>
<polygon points="349.48,415.22 349.98,416.44 351.29,416.54 350.29,417.39 350.60,418.66 349.48,417.97 348.36,418.66 348.67,417.39 347.67,416.54 348.98,416.44" fill="#109c47"/>
<polygon points="-1.7,-2.1 2.3,0 -1.7,2.1" fill="#109c47" transform="translate(347.45 420.57) rotate(10.0)"/>
<polygon points="-1.7,-2.1 2.3,0 -1.7,2.1" fill="#109c47" transform="translate(357.05 426.38) rotate(10.0)"/>
<rect x="-2.05" y="-2.05" width="4.1" height="4.1" fill="#1e73be" transform="translate(216.28 348.05) rotate(162.9)"/>
<rect x="-2.05" y="-2.05" width="4.1" height="4.1" fill="#159447" transform="translate(224.39 345.17) rotate(163.0)"/>
<rect x="-2.05" y="-2.05" width="4.1" height="4.1" fill="#e0a80f" transform="translate(228.60 344.23) rotate(162.9)"/>
<rect x="-2.05" y="-2.05" width="4.1" height="4.1" fill="#1e73be" transform="translate(218.61 355.20) rotate(161.0)"/>
<rect x="-2.05" y="-2.05" width="4.1" height="4.1" fill="#159447" transform="translate(226.70 352.27) rotate(161.0)"/>
<rect x="-2.05" y="-2.05" width="4.1" height="4.1" fill="#e0a80f" transform="translate(230.89 351.24) rotate(160.9)"/>
<rect x="-2.05" y="-2.05" width="4.1" height="4.1" fill="#1e73be" transform="translate(221.20 362.34) rotate(159.2)"/>
<rect x="-2.05" y="-2.05" width="4.1" height="4.1" fill="#159447" transform="translate(229.21 359.21) rotate(159.2)"/>
<rect x="-2.05" y="-2.05" width="4.1" height="4.1" fill="#e0a80f" transform="translate(233.33 357.96) rotate(159.1)"/>
<rect x="-2.05" y="-2.05" width="4.1" height="4.1" fill="#1e73be" transform="translate(224.10 369.60) rotate(157.2)"/>
<rect x="-2.05" y="-2.05" width="4.1" height="4.1" fill="#159447" transform="translate(231.94 366.07) rotate(157.3)"/>
<rect x="-2.05" y="-2.05" width="4.1" height="4.1" fill="#e0a80f" transform="translate(236.18 365.05) rotate(157.1)"/>
<rect x="-2.05" y="-2.05" width="4.1" height="4.1" fill="#1e73be" transform="translate(227.16 376.58) rotate(155.4)"/>
<rect x="-2.05" y="-2.05" width="4.1" height="4.1" fill="#159447" transform="translate(235.00 373.04) rotate(155.3)"/>
<rect x="-2.05" y="-2.05" width="4.1" height="4.1" fill="#e0a80f" transform="translate(239.12 371.69) rotate(155.2)"/>
<rect x="-2.05" y="-2.05" width="4.1" height="4.1" fill="#1e73be" transform="translate(230.56 383.67) rotate(153.4)"/>
<rect x="-2.05" y="-2.05" width="4.1" height="4.1" fill="#159447" transform="translate(238.35 380.02) rotate(153.4)"/>
<rect x="-2.05" y="-2.05" width="4.1" height="4.1" fill="#e0a80f" transform="translate(242.28 378.26) rotate(153.3)"/>
<rect x="-2.05" y="-2.05" width="4.1" height="4.1" fill="#1e73be" transform="translate(234.11 390.49) rotate(151.5)"/>
<rect x="-2.05" y="-2.05" width="4.1" height="4.1" fill="#159447" transform="translate(241.64 386.33) rotate(151.6)"/>
<rect x="-2.05" y="-2.05" width="4.1" height="4.1" fill="#e0a80f" transform="translate(245.57 384.56) rotate(151.5)"/>
<rect x="-2.05" y="-2.05" width="4.1" height="4.1" fill="#1e73be" transform="translate(238.03 397.43) rotate(149.6)"/>
<rect x="-2.05" y="-2.05" width="4.1" height="4.1" fill="#159447" transform="translate(245.44 393.06) rotate(149.6)"/>
<rect x="-2.05" y="-2.05" width="4.1" height="4.1" fill="#e0a80f" transform="translate(249.25 391.07) rotate(149.5)"/>
<rect x="-2.05" y="-2.05" width="4.1" height="4.1" fill="#e8382f" transform="translate(234.47 381.87) rotate(153.4)"/>
<circle cx="239.10" cy="348.37" r="1.9" fill="#8c9b9d"/>
<circle cx="260.37" cy="392.59" r="1.9" fill="#8c9b9d"/>
<circle cx="229.32" cy="251.50" r="1.9" fill="#8c9b9d"/>
<circle cx="227.61" cy="272.50" r="1.9" fill="#8c9b9d"/>
<circle cx="227.50" cy="279.50" r="1.9" fill="#8c9b9d"/>
<circle cx="227.63" cy="286.50" r="1.9" fill="#8c9b9d"/>
<circle cx="241.27" cy="298.80" r="1.9" fill="#d9a40f"/>
<circle cx="242.04" cy="305.49" r="1.9" fill="#d9a40f"/>
<circle cx="243.05" cy="312.19" r="1.9" fill="#d9a40f"/>
<circle cx="235.79" cy="320.22" r="1.9" fill="#8e2fc0"/>
<polygon points="-1.7,-2.1 2.3,0 -1.7,2.1" fill="#109c47" transform="translate(281.87 339.31) rotate(-100.0)"/>
<polygon points="-1.7,-2.1 2.3,0 -1.7,2.1" fill="#109c47" transform="translate(288.51 354.44) rotate(-100.0)"/>
<polygon points="-1.7,-2.1 2.3,0 -1.7,2.1" fill="#109c47" transform="translate(293.89 364.38) rotate(-100.0)"/>
<polygon points="-1.7,-2.1 2.3,0 -1.7,2.1" fill="#109c47" transform="translate(259.20 328.50) rotate(-15.0)"/>
<polygon points="-1.7,-2.1 2.3,0 -1.7,2.1" fill="#e53525" transform="translate(263.50 327.20) rotate(-15.0)"/>
<polygon points="-1.7,-2.1 2.3,0 -1.7,2.1" fill="#dba510" transform="translate(242.70 333.00) rotate(15.0)"/>
<circle cx="534.9" cy="426" r="1.75" fill="#1f8a3a" stroke="#cf2e20" stroke-width="0.9"/>
</g>
</svg></body></html>
